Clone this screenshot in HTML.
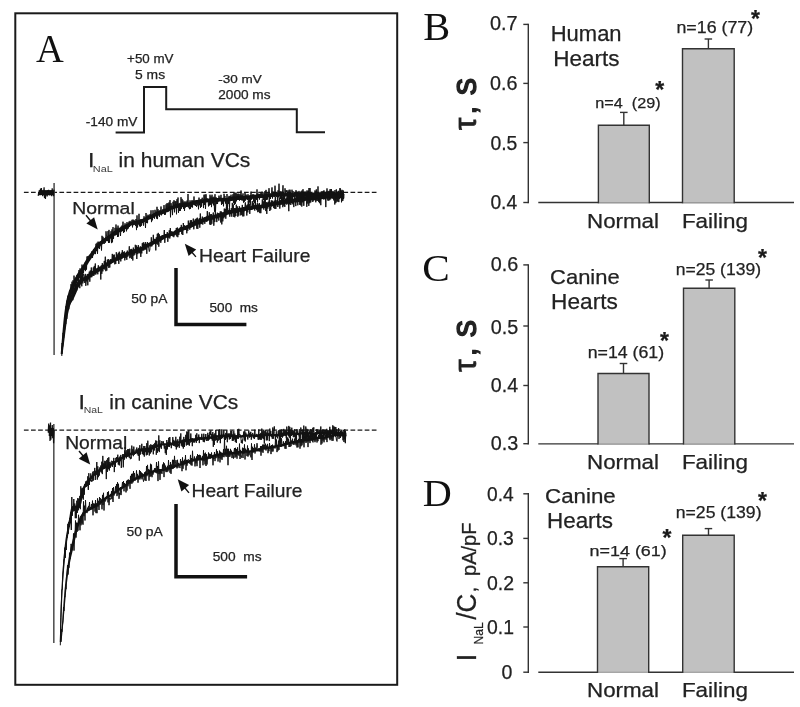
<!DOCTYPE html>
<html><head><meta charset="utf-8"><style>
html,body{margin:0;padding:0;background:#fff;}
svg{display:block;filter:grayscale(1) blur(0.35px);}
text{font-family:"Liberation Sans",sans-serif;fill:#222;stroke:#222;stroke-width:0.25px;}
.serif{font-family:"Liberation Serif",serif;fill:#111;stroke:none;}
.sub{fill:#3a3a3a;stroke:none;}
</style></head><body>
<svg width="800" height="707" viewBox="0 0 800 707">
<rect width="800" height="707" fill="#fff"/>

<rect x="15.3" y="13.3" width="381.9" height="671.5" fill="none" stroke="#1a1a1a" stroke-width="2"/>
<text class="serif" x="36.12" y="62.00" font-size="39.39" textLength="27.76" lengthAdjust="spacingAndGlyphs">A</text>
<polyline fill="none" stroke="#1a1a1a" stroke-width="2" points="115.6,132.6 144,132.6 144,86.9 166.2,86.9 166.2,109.2 296.8,109.2 296.8,132.2 325,132.2"/>
<text x="127.13" y="63.30" font-size="13.14" textLength="46.39" lengthAdjust="spacingAndGlyphs">+50 mV</text>
<text x="135.04" y="78.90" font-size="12.90" textLength="30.07" lengthAdjust="spacingAndGlyphs">5 ms</text>
<text x="85.79" y="125.60" font-size="13.14" textLength="51.64" lengthAdjust="spacingAndGlyphs">-140 mV</text>
<text x="218.29" y="83.30" font-size="11.29" textLength="43.42" lengthAdjust="spacingAndGlyphs">-30 mV</text>
<text x="218.22" y="98.50" font-size="12.57" textLength="52.27" lengthAdjust="spacingAndGlyphs">2000 ms</text>
<text x="87.92" y="167.00" font-size="20.29" textLength="6.43" lengthAdjust="spacingAndGlyphs">I</text>
<text class="sub" x="92.88" y="172.30" font-size="9.13" textLength="19.94" lengthAdjust="spacingAndGlyphs">NaL</text>
<text x="118.64" y="167.00" font-size="19.59" textLength="131.62" lengthAdjust="spacingAndGlyphs">in human VCs</text>
<text x="78.52" y="408.60" font-size="20.43" textLength="6.43" lengthAdjust="spacingAndGlyphs">I</text>
<text class="sub" x="83.67" y="412.50" font-size="8.84" textLength="19.14" lengthAdjust="spacingAndGlyphs">NaL</text>
<text x="109.24" y="408.60" font-size="19.59" textLength="128.99" lengthAdjust="spacingAndGlyphs">in canine VCs</text>
<line x1="23.9" y1="192.3" x2="378" y2="192.3" stroke="#1a1a1a" stroke-width="1.3" stroke-dasharray="4.7,2.4"/>
<line x1="23.9" y1="430.2" x2="378" y2="430.2" stroke="#1a1a1a" stroke-width="1.3" stroke-dasharray="4.7,2.4"/>
<line x1="54.1" y1="183" x2="54.1" y2="355" stroke="#555" stroke-width="1.6"/>
<line x1="53.8" y1="424" x2="53.8" y2="643" stroke="#555" stroke-width="1.6"/>
<polygon fill="#111" points="62.3,354.1 63.4,342.6 64.5,332.0 65.6,322.0 66.7,313.9 67.8,307.5 68.9,302.3 70.0,298.4 71.1,295.5 72.2,292.6 73.3,290.4 74.2,287.9 75.2,285.9 76.2,283.9 77.2,281.9 78.2,280.0 79.2,278.4 80.2,276.4 81.1,274.8 82.1,273.4 83.1,272.0 84.1,270.4 85.1,269.0 86.2,267.2 87.1,265.3 88.1,263.8 89.1,262.1 90.1,260.5 91.1,259.1 92.1,257.6 93.1,256.1 94.1,254.5 95.0,253.2 96.0,251.8 97.0,250.4 98.0,249.1 98.9,247.8 99.9,246.9 100.9,245.6 101.7,244.8 102.7,244.3 103.7,243.1 104.7,242.6 105.7,241.6 106.5,241.2 107.6,240.4 108.5,239.9 109.6,239.2 110.5,238.4 111.6,237.9 112.6,237.0 113.5,236.6 114.7,235.6 115.6,234.8 116.5,234.3 117.6,233.6 118.6,232.8 119.4,232.2 120.3,231.9 121.5,231.2 122.6,230.6 123.7,229.7 124.3,229.2 125.2,229.0 126.4,228.3 127.3,227.9 128.4,227.3 129.4,226.7 130.5,226.1 131.4,225.5 131.7,225.3 132.8,225.5 134.1,224.9 134.8,224.8 136.1,224.5 137.0,224.1 137.7,224.1 139.0,223.9 140.2,223.4 141.1,223.1 142.0,222.9 143.0,222.5 144.2,222.2 145.4,221.6 146.4,221.0 147.3,220.6 148.3,220.1 149.3,219.6 150.2,219.2 151.2,218.9 152.3,218.4 153.4,217.9 154.5,217.2 155.4,216.6 156.2,216.3 157.3,215.9 158.3,215.3 158.9,215.1 160.0,214.9 161.1,214.5 162.1,214.2 163.4,213.8 164.3,213.1 165.0,213.0 166.1,212.6 167.1,212.3 168.4,211.9 169.5,211.0 170.6,210.4 171.4,209.7 172.0,209.5 172.9,209.4 174.1,209.0 175.4,208.5 176.2,208.0 177.1,207.8 178.0,207.3 178.8,207.3 179.6,207.1 180.3,207.2 181.7,207.3 183.1,206.9 183.6,206.7 184.5,206.9 185.8,206.6 186.6,206.6 187.7,206.5 188.9,206.3 190.0,206.0 191.0,205.7 192.2,205.4 193.2,204.8 194.1,204.6 195.0,204.2 195.9,204.1 196.8,203.9 197.8,203.8 198.8,203.6 199.7,203.5 200.7,203.3 201.7,203.3 202.7,203.1 203.6,203.1 204.9,202.9 205.9,202.6 206.9,202.5 207.7,202.2 208.4,202.3 209.8,202.3 211.0,201.8 211.6,201.8 212.5,201.8 213.5,201.7 214.3,201.9 215.4,201.9 216.5,201.9 217.7,201.9 218.8,201.7 219.8,201.5 220.4,201.4 221.1,201.6 222.4,201.8 223.9,201.7 224.6,201.4 225.2,201.6 226.6,201.7 227.8,201.5 229.3,201.2 229.9,200.5 230.1,200.9 231.6,201.0 233.1,200.7 233.9,200.3 234.3,200.4 235.8,200.5 237.0,200.0 237.6,199.9 238.5,200.0 239.5,199.9 240.5,200.0 241.8,200.0 242.5,199.8 243.5,199.9 244.9,199.7 245.9,199.4 246.5,199.4 247.7,199.4 248.8,199.1 249.7,199.1 250.6,198.9 251.8,199.0 252.9,198.6 253.9,198.5 254.5,198.3 255.5,198.5 256.9,198.3 257.8,198.0 258.7,198.0 259.6,197.9 260.4,197.9 261.2,198.0 262.3,198.2 263.6,198.2 264.8,198.1 265.9,197.9 266.9,197.7 267.9,197.5 268.8,197.2 269.7,197.3 270.6,197.1 271.6,197.1 272.9,196.9 273.8,196.7 274.6,196.7 275.7,196.5 276.4,196.5 277.5,196.6 278.4,196.5 279.1,196.6 280.6,196.9 281.9,196.5 282.3,196.4 283.0,196.8 284.7,196.9 285.8,196.6 286.1,196.6 287.0,197.0 288.6,197.1 289.8,196.9 290.4,196.8 291.4,197.0 292.5,196.9 293.6,197.0 294.8,196.9 295.5,196.7 296.4,196.8 297.9,196.7 298.6,196.4 299.6,196.6 300.8,196.4 301.6,196.3 302.6,196.3 303.8,196.2 304.4,196.0 305.4,196.3 306.8,196.1 307.5,196.0 308.3,196.1 309.3,196.2 310.2,196.4 311.5,196.5 312.6,196.4 313.6,196.4 314.5,196.4 315.6,196.4 316.5,196.2 317.0,196.4 318.5,196.8 319.9,196.4 320.6,196.3 321.5,196.4 322.8,196.3 323.8,196.1 324.6,196.0 325.4,196.0 326.4,196.1 327.9,196.1 328.7,195.7 329.1,195.9 330.3,196.1 331.5,196.2 332.4,196.1 333.3,196.3 334.4,196.4 335.6,196.4 336.7,196.3 337.5,196.2 338.7,196.2 339.9,196.0 340.7,195.8 341.6,195.8 342.7,195.7 343.8,195.5 343.2,191.8 342.3,191.9 341.4,192.0 340.3,192.0 339.1,192.3 338.3,192.4 337.5,192.4 336.3,192.5 335.4,192.6 334.6,192.6 333.7,192.5 332.6,192.4 331.5,192.4 330.7,192.3 329.9,192.2 328.3,191.9 327.1,192.3 326.6,192.3 325.6,192.2 324.4,192.2 323.2,192.3 322.2,192.5 321.5,192.6 320.4,192.5 319.1,192.7 318.5,193.0 318.0,192.7 316.5,192.4 315.4,192.6 314.5,192.6 313.4,192.6 312.4,192.7 311.5,192.7 310.8,192.6 309.7,192.4 308.7,192.4 307.5,192.2 306.2,192.4 305.6,192.5 304.6,192.2 303.2,192.4 302.4,192.5 301.4,192.5 300.2,192.6 299.4,192.8 298.4,192.7 297.1,193.0 296.6,193.0 295.5,192.9 294.2,193.1 293.4,193.2 292.5,193.1 291.6,193.2 290.6,193.0 289.2,193.2 288.4,193.3 288.0,193.3 286.9,192.9 285.2,192.9 284.3,193.2 284.0,193.1 282.7,192.7 281.1,192.8 280.4,193.1 279.9,192.9 278.6,192.7 277.5,192.8 276.6,192.7 275.3,192.8 274.4,192.9 273.2,192.9 272.1,193.2 271.4,193.3 270.4,193.3 269.3,193.5 268.2,193.4 267.1,193.8 266.1,193.9 265.1,194.2 264.2,194.3 263.4,194.4 262.7,194.5 261.8,194.2 260.6,194.1 259.4,194.1 258.3,194.2 257.2,194.3 256.1,194.5 255.5,194.7 254.5,194.5 253.1,194.7 252.1,194.9 251.2,195.2 250.4,195.1 249.3,195.3 248.2,195.4 247.3,195.6 246.5,195.6 245.1,195.7 244.1,196.0 243.5,196.1 242.5,196.0 241.2,196.2 240.5,196.2 239.5,196.1 238.5,196.2 237.4,196.1 236.0,196.4 235.2,196.7 234.7,196.6 233.1,196.6 231.9,197.1 231.4,197.2 230.9,197.2 229.1,196.8 227.7,197.7 227.2,197.7 226.4,197.9 225.8,197.9 224.4,197.6 223.1,198.0 222.6,198.0 221.9,197.9 220.6,197.6 219.2,197.8 218.2,197.9 217.3,198.1 216.5,198.1 215.6,198.1 214.7,198.1 213.5,197.9 212.5,198.0 211.4,198.0 210.0,198.2 209.2,198.6 208.6,198.5 207.3,198.4 206.1,198.8 205.1,198.9 204.1,199.2 203.4,199.3 202.3,199.3 201.3,199.5 200.3,199.6 199.3,199.7 198.2,199.8 197.2,200.0 196.2,200.1 195.1,200.4 194.0,200.6 192.9,201.0 191.8,201.3 190.8,201.9 190.0,202.1 189.0,202.4 188.1,202.6 187.3,202.7 186.4,202.8 185.2,202.9 184.5,203.1 183.4,202.9 181.9,203.3 181.3,203.5 180.7,203.4 179.4,203.3 178.2,203.5 177.0,203.7 175.9,204.2 174.8,204.5 173.6,205.1 172.9,205.5 172.1,205.7 171.0,205.9 169.6,206.4 168.4,207.3 167.5,207.9 166.6,208.5 165.9,208.7 164.9,209.0 164.0,209.4 162.7,209.6 161.6,210.4 160.9,210.6 159.9,211.0 159.0,211.2 158.1,211.4 156.7,211.8 155.7,212.5 154.8,212.8 153.6,213.2 152.5,214.0 151.6,214.6 150.7,214.9 149.8,215.4 148.8,215.6 147.7,216.2 146.7,216.7 145.7,217.2 144.6,217.6 143.6,218.3 142.8,218.7 142.0,218.9 141.0,219.2 139.9,219.4 138.8,219.9 138.0,220.2 137.3,220.3 136.0,220.4 134.9,220.9 134.2,221.0 132.9,221.3 132.2,221.7 131.3,221.6 129.6,222.1 128.5,222.9 127.6,223.4 126.6,224.0 125.7,224.5 124.6,224.9 123.8,225.6 122.7,225.7 121.3,226.7 120.4,227.4 119.5,227.9 118.7,228.5 117.6,228.9 116.4,229.7 115.4,230.5 114.5,231.1 113.4,231.7 112.3,232.7 111.5,233.4 110.4,233.9 109.4,234.8 108.5,235.2 107.4,236.1 106.5,236.6 105.4,237.2 104.5,238.0 103.3,238.6 102.3,239.6 101.3,240.2 100.3,241.3 99.3,241.8 98.1,243.1 97.1,244.3 96.1,245.3 95.0,246.8 94.0,248.2 93.0,249.6 92.0,250.9 90.9,252.4 89.9,254.1 88.9,255.5 87.9,256.9 86.9,258.5 85.9,260.1 84.9,261.8 83.9,263.4 82.8,265.3 81.9,266.9 80.9,268.3 79.9,269.9 78.9,271.3 77.9,272.8 76.8,274.6 75.8,276.6 74.8,278.1 73.8,280.2 72.8,282.2 71.8,284.2 70.8,286.4 69.7,288.9 68.8,291.3 67.9,294.4 67.0,297.6 66.1,301.7 65.2,307.0 64.3,313.5 63.4,321.8 62.5,331.8 61.6,342.4 60.7,353.9"/><polyline fill="none" stroke="#111" stroke-width="1.00" stroke-linejoin="miter" points="61.5,354.4 62.0,343.1 62.5,345.1 63.0,332.9 63.5,334.7 64.0,326.2 64.5,324.2 65.0,317.2 65.5,314.6 66.0,306.2 66.5,309.0 67.0,300.5 67.5,305.2 68.0,295.7 68.5,302.5 69.0,295.0 69.5,293.7 70.0,290.0 70.5,297.5 71.0,284.2 71.5,294.5 72.0,281.7 72.5,293.4 73.0,280.3 73.5,288.2 74.0,275.6 74.5,281.4 75.0,279.4 75.5,290.4 76.0,279.3 76.5,283.1 77.0,275.0 77.5,279.2 78.0,274.5 78.5,283.0 79.0,270.0 79.5,277.6 80.0,268.4 80.5,271.7 81.0,271.6 81.5,279.3 82.0,264.6 82.5,277.9 83.0,265.9 83.5,272.9 84.0,267.2 84.5,269.5 85.0,262.7 85.5,271.1 86.0,261.9 86.5,269.6 87.0,256.5 87.5,262.0 88.0,256.0 88.5,260.2 89.0,255.7 89.5,258.4 90.0,254.7 90.5,256.5 91.0,256.0 91.5,255.4 92.0,251.3 92.5,258.0 93.0,252.0 93.5,253.6 94.0,249.1 94.5,253.3 95.0,248.5 95.5,254.1 96.0,243.8 96.5,250.8 97.0,242.8 97.5,253.8 98.0,241.7 98.5,247.4 99.0,241.8 99.5,249.0 100.0,242.3 100.5,244.7 101.0,241.1 101.5,250.5 102.0,235.8 102.5,242.1 103.0,236.8 103.5,243.5 104.0,243.0 104.5,243.7 105.0,239.3 105.5,242.6 106.0,231.3 106.5,236.6 107.0,237.6 107.5,241.1 108.0,231.1 108.5,243.0 109.0,229.9 109.5,242.7 110.0,235.8 110.5,238.2 111.0,231.2 111.5,243.1 112.0,229.4 112.5,242.3 113.0,227.1 113.5,238.9 114.0,231.6 114.5,235.2 115.0,227.8 115.5,235.3 116.0,224.5 116.5,234.7 117.0,227.8 117.5,237.0 118.0,225.6 118.5,236.6 119.0,227.7 119.5,230.7 120.0,229.6 120.5,236.0 121.0,226.7 121.5,231.5 122.0,225.5 122.5,231.1 123.0,221.7 123.5,232.8 124.0,227.9 124.5,232.1 125.0,223.3 125.5,229.0 126.0,225.0 126.5,231.3 127.0,222.1 127.5,229.3 128.0,228.1 128.5,228.2 129.0,221.6 129.5,227.0 130.0,220.9 130.5,224.1 131.0,222.9 131.5,224.3 132.0,219.8 132.5,227.4 133.0,219.6 133.5,224.9 134.0,219.9 134.5,224.3 135.0,221.7 135.5,225.8 136.0,219.0 136.5,230.1 137.0,215.4 137.5,227.5 138.0,222.4 138.5,224.5 139.0,213.8 139.5,226.3 140.0,220.6 140.5,226.6 141.0,219.2 141.5,225.7 142.0,220.0 142.5,223.0 143.0,221.5 143.5,225.6 144.0,216.3 144.5,221.6 145.0,220.2 145.5,227.9 146.0,213.0 146.5,223.0 147.0,215.6 147.5,223.2 148.0,214.7 148.5,217.0 149.0,215.8 149.5,219.0 150.0,214.1 150.5,218.6 151.0,210.3 151.5,222.1 152.0,214.9 152.5,220.3 153.0,210.2 153.5,217.1 154.0,215.1 154.5,218.7 155.0,209.8 155.5,216.1 156.0,211.6 156.5,218.5 157.0,206.8 157.5,219.1 158.0,209.2 158.5,215.4 159.0,210.9 159.5,216.8 160.0,210.0 160.5,213.8 161.0,206.5 161.5,215.3 162.0,212.4 162.5,213.1 163.0,209.1 163.5,213.4 164.0,205.1 164.5,214.9 165.0,208.7 165.5,214.6 166.0,204.4 166.5,210.3 167.0,203.2 167.5,210.9 168.0,203.3 168.5,209.9 169.0,202.4 169.5,210.0 170.0,200.1 170.5,217.3 171.0,203.1 171.5,207.3 172.0,207.7 172.5,215.1 173.0,201.8 173.5,207.3 174.0,200.2 174.5,212.3 175.0,201.2 175.5,206.6 176.0,201.2 176.5,214.3 177.0,199.2 177.5,207.8 178.0,197.5 178.5,212.8 179.0,204.9 179.5,211.0 180.0,202.9 180.5,210.8 181.0,197.2 181.5,208.7 182.0,198.9 182.5,204.8 183.0,200.4 183.5,208.9 184.0,201.9 184.5,211.0 185.0,201.3 185.5,207.5 186.0,202.1 186.5,207.0 187.0,200.6 187.5,206.5 188.0,194.0 188.5,207.4 189.0,206.9 189.5,209.2 190.0,200.3 190.5,208.8 191.0,201.6 191.5,207.1 192.0,200.1 192.5,207.5 193.0,200.7 193.5,204.4 194.0,196.5 194.5,205.2 195.0,202.1 195.5,205.9 196.0,200.3 196.5,206.8 197.0,204.8 197.5,205.3 198.0,200.1 198.5,209.3 199.0,197.6 199.5,205.2 200.0,201.0 200.5,207.8 201.0,199.2 201.5,206.7 202.0,197.7 202.5,198.0 203.0,199.6 203.5,208.1 204.0,194.7 204.5,204.8 205.0,194.6 205.5,209.0 206.0,194.2 206.5,201.3 207.0,198.3 207.5,201.0 208.0,199.2 208.5,206.4 209.0,200.1 209.5,205.4 210.0,194.7 210.5,204.7 211.0,196.4 211.5,207.1 212.0,194.7 212.5,203.4 213.0,197.2 213.5,205.3 214.0,196.7 214.5,211.7 215.0,194.2 215.5,211.7 216.0,197.2 216.5,204.1 217.0,198.5 217.5,204.0 218.0,199.7 218.5,200.3 219.0,195.6 219.5,199.8 220.0,198.1 220.5,200.3 221.0,194.8 221.5,204.9 222.0,200.4 222.5,203.8 223.0,197.8 223.5,206.3 224.0,193.8 224.5,197.5 225.0,196.1 225.5,203.5 226.0,199.5 226.5,208.1 227.0,194.0 227.5,208.3 228.0,199.1 228.5,203.8 229.0,195.9 229.5,207.8 230.0,196.0 230.5,201.1 231.0,194.7 231.5,199.6 232.0,196.8 232.5,197.7 233.0,194.2 233.5,203.2 234.0,192.3 234.5,204.9 235.0,193.1 235.5,203.7 236.0,192.5 236.5,201.3 237.0,193.9 237.5,198.9 238.0,193.6 238.5,198.5 239.0,193.8 239.5,200.6 240.0,194.5 240.5,199.3 241.0,190.5 241.5,200.3 242.0,195.1 242.5,200.4 243.0,193.4 243.5,202.6 244.0,197.2 244.5,201.7 245.0,192.8 245.5,200.5 246.0,194.5 246.5,197.2 247.0,196.3 247.5,199.8 248.0,194.2 248.5,205.3 249.0,196.8 249.5,202.4 250.0,197.6 250.5,201.4 251.0,191.6 251.5,199.7 252.0,196.9 252.5,198.2 253.0,194.0 253.5,201.6 254.0,197.3 254.5,203.1 255.0,196.0 255.5,199.7 256.0,195.3 256.5,199.8 257.0,189.4 257.5,202.4 258.0,193.5 258.5,196.9 259.0,195.3 259.5,199.5 260.0,193.8 260.5,195.6 261.0,192.6 261.5,196.9 262.0,191.7 262.5,195.0 263.0,198.5 263.5,200.1 264.0,192.3 264.5,200.7 265.0,191.0 265.5,200.9 266.0,189.9 266.5,200.0 267.0,192.4 267.5,199.5 268.0,193.7 268.5,196.2 269.0,188.2 269.5,196.1 270.0,194.2 270.5,198.9 271.0,193.6 271.5,193.3 272.0,187.4 272.5,198.5 273.0,191.5 273.5,196.2 274.0,192.7 274.5,196.9 275.0,185.7 275.5,195.9 276.0,192.5 276.5,196.8 277.0,192.4 277.5,201.5 278.0,190.4 278.5,197.3 279.0,183.7 279.5,196.2 280.0,191.4 280.5,198.9 281.0,191.4 281.5,198.0 282.0,192.0 282.5,193.4 283.0,185.3 283.5,202.5 284.0,193.9 284.5,199.4 285.0,188.3 285.5,194.8 286.0,190.4 286.5,191.9 287.0,190.1 287.5,199.7 288.0,191.4 288.5,202.0 289.0,189.8 289.5,204.0 290.0,189.7 290.5,197.2 291.0,193.1 291.5,202.5 292.0,189.7 292.5,202.2 293.0,191.1 293.5,196.7 294.0,194.0 294.5,201.5 295.0,193.0 295.5,196.0 296.0,190.2 296.5,195.2 297.0,191.6 297.5,199.1 298.0,192.0 298.5,196.0 299.0,190.9 299.5,197.4 300.0,192.1 300.5,199.3 301.0,191.4 301.5,198.1 302.0,190.5 302.5,197.8 303.0,189.2 303.5,198.8 304.0,191.7 304.5,192.7 305.0,191.7 305.5,196.0 306.0,191.6 306.5,199.4 307.0,190.4 307.5,198.9 308.0,191.4 308.5,196.5 309.0,188.0 309.5,201.9 310.0,188.0 310.5,197.0 311.0,193.5 311.5,197.7 312.0,193.5 312.5,199.9 313.0,193.2 313.5,197.9 314.0,197.6 314.5,196.5 315.0,190.4 315.5,196.6 316.0,191.2 316.5,197.3 317.0,195.3 317.5,196.8 318.0,186.4 318.5,200.2 319.0,193.0 319.5,203.2 320.0,193.9 320.5,199.4 321.0,191.7 321.5,197.8 322.0,191.1 322.5,196.6 323.0,192.2 323.5,198.1 324.0,190.4 324.5,195.9 325.0,194.8 325.5,197.7 326.0,193.9 326.5,195.0 327.0,188.4 327.5,198.3 328.0,190.9 328.5,197.5 329.0,191.0 329.5,198.9 330.0,189.3 330.5,196.5 331.0,189.1 331.5,196.4 332.0,191.8 332.5,196.4 333.0,190.9 333.5,198.6 334.0,192.0 334.5,194.8 335.0,190.0 335.5,197.8 336.0,193.3 336.5,198.6 337.0,191.7 337.5,196.4 338.0,195.0 338.5,197.1 339.0,191.8 339.5,198.9 340.0,188.0 340.5,198.1 341.0,190.6 341.5,202.3 342.0,189.8 342.5,191.4 343.0,191.1 343.5,199.1 344.0,193.9"/>
<polygon fill="#111" points="62.6,354.1 63.7,345.4 64.8,336.8 65.9,328.1 67.0,319.7 68.1,313.7 69.2,308.8 70.3,305.1 71.3,302.6 72.4,301.0 73.5,299.1 74.5,297.0 75.5,294.7 76.6,292.2 77.6,289.6 78.5,287.5 79.5,285.6 80.3,284.3 81.2,283.4 82.1,282.4 82.9,281.8 83.7,281.2 84.6,280.8 85.6,280.4 86.7,279.9 87.8,279.2 88.9,278.6 90.0,277.6 90.8,277.0 91.8,276.5 92.9,275.6 93.7,275.0 94.8,274.5 96.1,273.5 97.1,272.5 97.9,271.8 98.6,271.5 99.7,271.0 100.8,270.4 101.6,269.9 102.6,269.6 103.8,268.9 104.9,268.3 105.9,267.5 106.9,266.8 108.0,266.0 109.0,265.2 109.9,264.4 110.7,263.9 111.7,263.5 112.7,262.9 113.8,262.4 114.7,261.7 115.5,261.5 116.6,260.9 117.4,260.6 118.5,260.3 119.4,259.8 120.5,259.6 121.8,258.9 122.7,258.3 123.7,257.8 124.6,257.4 125.6,257.0 126.5,256.5 127.5,256.2 128.5,255.6 129.6,255.3 130.8,254.6 131.6,254.1 132.0,254.0 133.2,254.0 134.4,253.5 135.5,253.2 136.6,252.7 137.7,252.2 138.6,251.6 139.3,251.4 140.3,251.2 141.4,250.8 142.4,250.5 143.7,250.0 144.7,249.4 145.9,248.7 146.9,247.8 147.6,247.6 148.6,246.9 149.6,246.6 150.5,246.1 151.5,245.9 152.7,245.2 153.8,244.6 154.8,243.9 155.4,243.6 156.6,243.3 157.7,242.5 158.6,242.3 159.8,241.5 160.7,241.0 161.8,240.4 162.8,239.6 163.7,239.1 164.6,238.6 165.6,238.3 166.6,237.8 167.1,237.6 168.3,237.5 169.7,236.8 170.5,236.4 171.3,236.1 172.4,235.9 173.4,235.4 174.5,235.2 175.6,234.5 176.7,234.2 177.9,233.3 178.8,232.7 179.6,232.2 180.4,232.0 181.6,231.5 182.7,230.9 183.6,230.4 184.4,230.1 185.4,229.9 186.6,229.4 187.5,228.9 188.2,228.7 189.3,228.6 190.6,228.0 191.6,227.5 192.6,227.1 193.9,226.5 194.9,225.5 195.8,225.1 196.7,224.4 197.2,224.3 198.5,224.0 199.6,223.4 200.5,223.0 201.5,222.7 202.4,222.3 203.3,222.1 204.4,221.8 205.2,221.5 206.1,221.5 207.7,221.1 208.6,220.3 209.2,220.2 210.2,220.0 211.2,219.8 212.2,219.7 213.3,219.4 214.7,218.9 215.6,218.3 216.3,218.2 217.2,217.9 218.2,217.8 219.6,217.4 220.4,216.9 221.2,216.8 222.5,216.4 223.3,216.0 224.0,216.0 225.4,215.8 226.6,215.3 227.6,214.8 228.3,214.5 229.3,214.4 230.3,214.0 231.3,213.8 232.3,213.5 233.4,213.3 234.3,212.8 234.8,212.8 236.1,212.8 237.0,212.5 238.4,212.6 239.7,211.6 240.2,211.5 240.9,211.5 242.0,211.4 242.9,211.3 243.9,211.4 245.3,211.1 246.6,210.6 247.4,210.3 248.0,210.1 248.6,210.1 249.9,210.3 251.3,210.0 252.4,209.7 253.3,209.3 254.3,209.2 255.1,208.8 255.9,208.9 256.7,208.8 257.5,209.0 259.1,209.1 260.3,208.6 261.2,208.5 262.0,208.3 263.1,208.3 264.2,207.9 265.1,207.9 266.3,207.5 267.2,207.3 268.5,207.0 269.7,206.3 270.2,206.0 270.8,206.1 271.9,206.1 273.1,205.9 273.9,205.8 275.2,205.8 276.2,205.3 277.1,205.4 278.2,205.1 279.2,204.9 280.4,204.5 281.5,204.2 282.3,203.8 283.0,203.8 284.4,203.6 285.2,203.1 285.9,203.2 287.0,203.0 288.2,203.0 289.3,202.5 289.8,202.5 290.5,202.6 291.8,202.8 293.2,202.7 294.2,202.4 294.8,202.3 296.0,202.4 297.3,202.0 297.9,201.9 298.9,202.0 300.2,201.7 301.0,201.6 301.9,201.5 303.1,201.4 304.1,201.2 305.3,201.0 306.3,200.6 306.9,200.5 307.9,200.6 309.1,200.4 309.7,200.2 310.8,200.5 312.2,200.2 312.9,200.0 313.7,200.1 315.1,200.0 316.2,199.7 317.0,199.6 317.7,199.6 318.8,199.7 320.1,199.6 321.2,199.3 322.0,199.2 323.0,199.1 324.2,198.9 325.4,198.6 326.0,198.3 327.2,198.5 328.5,197.7 328.6,197.8 329.4,198.0 330.7,198.2 331.8,198.2 332.9,198.2 333.8,198.0 334.8,198.2 335.9,198.0 336.5,198.0 337.6,198.3 339.2,198.2 340.5,197.8 341.4,197.4 342.1,197.3 343.0,197.1 343.8,197.1 343.8,193.3 342.6,193.3 341.5,193.6 340.2,193.7 339.1,194.3 338.4,194.5 338.0,194.5 337.1,194.3 335.7,194.2 334.8,194.4 333.8,194.2 332.7,194.4 331.8,194.4 330.9,194.4 330.2,194.3 329.0,194.0 327.1,194.2 326.4,194.8 325.6,194.5 324.2,195.0 323.4,195.2 322.6,195.3 321.6,195.4 320.4,195.6 319.5,195.8 318.8,195.9 317.9,195.8 316.6,195.8 315.4,196.0 314.5,196.3 313.9,196.3 312.7,196.2 311.4,196.5 310.8,196.7 309.9,196.4 308.5,196.6 307.7,196.8 306.7,196.7 305.3,197.0 304.3,197.4 303.5,197.5 302.5,197.7 301.7,197.7 300.6,197.8 299.4,198.0 298.7,198.2 297.7,198.1 296.3,198.3 295.6,198.7 294.8,198.5 293.4,198.7 292.4,198.9 291.8,199.0 291.1,198.9 289.8,198.7 288.3,198.9 287.4,199.2 286.6,199.2 285.7,199.4 284.4,199.4 283.2,200.0 282.6,200.0 281.3,200.2 280.1,200.6 279.2,200.9 278.4,201.2 277.4,201.3 276.5,201.6 275.4,201.6 274.4,202.1 273.7,202.0 272.5,202.2 271.7,202.3 270.8,202.3 269.4,202.3 267.9,203.0 267.1,203.5 266.4,203.6 265.3,203.8 264.5,204.2 263.4,204.2 262.5,204.6 261.6,204.5 260.4,204.8 259.3,205.0 258.5,205.3 258.1,205.2 256.9,205.0 255.7,205.1 254.5,205.1 253.3,205.5 252.3,205.6 251.2,206.1 250.3,206.3 249.7,206.5 249.0,206.4 247.6,206.3 246.2,206.7 245.0,207.1 244.3,207.5 243.7,207.6 242.7,207.5 241.6,207.6 240.7,207.7 239.4,207.7 237.9,208.3 237.2,208.9 236.6,208.7 235.5,209.1 234.8,209.0 233.3,209.1 232.2,209.7 231.3,209.8 230.3,210.2 229.3,210.3 228.3,210.7 227.3,210.8 226.0,211.4 225.0,211.8 224.2,212.1 223.6,212.2 222.3,212.3 221.1,212.9 220.4,213.1 219.2,213.3 218.0,213.9 217.4,214.1 216.4,214.2 215.3,214.5 214.0,214.8 212.9,215.6 212.3,215.8 211.4,215.9 210.4,216.1 209.4,216.3 208.4,216.5 207.0,216.9 205.9,217.7 205.5,217.7 204.4,217.8 203.2,218.2 202.3,218.4 201.2,218.7 200.1,219.1 199.1,219.5 198.0,220.0 197.1,220.5 196.4,220.6 194.9,221.0 193.8,221.9 192.7,222.4 191.7,223.3 191.0,223.6 190.0,224.1 189.0,224.5 188.3,224.9 187.4,225.0 186.1,225.4 185.0,225.9 184.2,226.3 183.2,226.4 182.0,227.0 180.9,227.6 180.0,228.1 179.2,228.4 178.0,228.8 176.8,229.5 175.7,230.2 174.9,230.8 174.0,231.1 173.1,231.7 172.2,231.8 171.2,232.3 170.3,232.4 169.1,232.9 167.9,233.5 167.3,233.9 166.5,233.8 165.0,234.3 164.0,234.8 163.0,235.2 161.9,235.8 160.8,236.5 159.8,237.2 158.9,237.6 157.8,238.3 157.0,238.9 155.9,239.1 155.0,239.9 154.2,240.0 152.8,240.7 151.8,241.4 150.9,241.8 150.1,242.3 149.1,242.6 148.0,243.2 147.0,243.5 146.0,244.2 144.7,244.6 143.7,245.7 142.9,246.0 141.9,246.6 141.2,246.9 140.2,247.1 139.3,247.5 138.3,247.7 137.0,248.2 135.9,248.8 135.0,249.2 134.1,249.6 133.2,249.9 132.4,250.2 131.6,250.3 130.0,250.6 128.8,251.4 128.0,251.9 127.1,252.2 126.1,252.7 125.1,253.0 124.0,253.5 123.0,253.9 121.9,254.4 120.9,255.0 119.8,255.6 119.1,256.1 118.2,256.2 117.1,256.8 116.2,257.0 115.0,257.5 114.1,258.0 112.9,258.3 111.8,259.1 110.9,259.6 109.9,260.1 108.9,260.6 107.7,261.3 106.6,262.2 105.6,263.0 104.7,263.7 103.7,264.4 102.7,265.1 101.8,265.6 101.0,266.1 100.0,266.4 98.8,267.1 97.9,267.6 97.0,268.0 95.7,268.7 94.5,269.7 93.5,270.7 92.8,271.3 91.9,271.7 90.7,272.5 89.8,273.3 88.8,273.7 87.6,274.7 86.7,275.5 85.8,276.0 84.9,276.6 84.0,277.0 83.0,277.4 81.9,277.9 80.7,278.7 79.5,279.6 78.4,280.8 77.3,282.0 76.1,283.8 75.1,285.9 74.0,288.1 73.0,290.8 72.1,293.2 71.1,295.4 70.1,297.4 69.2,299.3 68.3,301.3 67.3,304.2 66.4,308.1 65.5,313.2 64.6,319.3 63.7,327.8 62.8,336.6 61.9,345.2 61.0,353.9"/><polyline fill="none" stroke="#111" stroke-width="1.00" stroke-linejoin="miter" points="61.8,356.0 62.3,347.6 62.8,346.2 63.3,338.8 63.8,337.5 64.3,331.1 64.8,329.0 65.3,318.9 65.8,324.1 66.3,312.6 66.8,318.9 67.3,308.4 67.8,310.0 68.3,303.6 68.8,309.3 69.3,299.6 69.8,304.3 70.3,296.7 70.8,302.4 71.3,294.8 71.8,299.3 72.3,290.7 72.8,300.2 73.3,289.3 73.8,294.8 74.3,287.8 74.8,293.8 75.3,285.9 75.8,288.0 76.3,283.8 76.8,290.5 77.3,286.0 77.8,286.3 78.3,279.7 78.8,282.9 79.3,281.4 79.8,288.2 80.3,274.2 80.8,284.5 81.3,279.2 81.8,286.3 82.3,276.2 82.8,283.4 83.3,273.6 83.8,274.9 84.3,276.4 84.8,283.0 85.3,273.9 85.8,285.8 86.3,279.8 86.8,281.4 87.3,274.1 87.8,285.3 88.3,273.8 88.8,279.6 89.3,271.6 89.8,281.7 90.3,270.5 90.8,277.3 91.3,267.5 91.8,277.2 92.3,271.0 92.8,272.8 93.3,267.4 93.8,276.0 94.3,265.9 94.8,273.0 95.3,263.5 95.8,274.6 96.3,270.8 96.8,272.1 97.3,268.8 97.8,274.3 98.3,265.3 98.8,271.8 99.3,266.9 99.8,270.0 100.3,269.8 100.8,279.5 101.3,265.4 101.8,273.8 102.3,263.2 102.8,271.4 103.3,266.7 103.8,267.2 104.3,260.9 104.8,269.5 105.3,256.7 105.8,271.2 106.3,264.3 106.8,270.6 107.3,259.7 107.8,265.0 108.3,259.1 108.8,267.9 109.3,261.9 109.8,267.5 110.3,259.2 110.8,264.1 111.3,261.6 111.8,260.8 112.3,253.9 112.8,262.0 113.3,254.8 113.8,260.1 114.3,254.6 114.8,264.3 115.3,260.7 115.8,263.9 116.3,252.2 116.8,259.9 117.3,254.4 117.8,260.6 118.3,252.8 118.8,263.9 119.3,251.7 119.8,259.4 120.3,254.1 120.8,261.4 121.3,252.7 121.8,258.8 122.3,250.2 122.8,256.9 123.3,252.1 123.8,257.4 124.3,251.4 124.8,260.4 125.3,255.2 125.8,258.0 126.3,251.9 126.8,259.8 127.3,250.6 127.8,256.7 128.3,252.7 128.8,253.7 129.3,246.3 129.8,258.2 130.3,249.4 130.8,257.6 131.3,248.9 131.8,259.0 132.3,249.6 132.8,260.5 133.3,247.6 133.8,255.7 134.3,249.4 134.8,254.7 135.3,244.8 135.8,252.2 136.3,245.4 136.8,259.0 137.3,246.9 137.8,254.1 138.3,245.1 138.8,252.9 139.3,249.3 139.8,253.3 140.3,246.4 140.8,256.9 141.3,248.9 141.8,253.4 142.3,243.2 142.8,250.5 143.3,242.3 143.8,250.4 144.3,243.7 144.8,249.3 145.3,242.0 145.8,249.6 146.3,243.8 146.8,253.8 147.3,242.0 147.8,243.8 148.3,244.8 148.8,248.8 149.3,251.6 149.8,250.0 150.3,242.9 150.8,246.4 151.3,237.3 151.8,246.4 152.3,241.4 152.8,243.5 153.3,234.8 153.8,243.8 154.3,238.9 154.8,243.1 155.3,238.9 155.8,250.4 156.3,237.3 156.8,243.9 157.3,233.8 157.8,244.7 158.3,232.9 158.8,246.7 159.3,234.3 159.8,239.7 160.3,236.3 160.8,242.8 161.3,235.8 161.8,238.3 162.3,235.0 162.8,239.7 163.3,236.6 163.8,236.8 164.3,230.0 164.8,242.8 165.3,234.3 165.8,235.2 166.3,234.1 166.8,237.1 167.3,232.0 167.8,241.8 168.3,234.4 168.8,237.6 169.3,230.3 169.8,238.5 170.3,228.1 170.8,235.4 171.3,231.3 171.8,232.5 172.3,231.7 172.8,236.4 173.3,232.4 173.8,237.2 174.3,232.4 174.8,235.3 175.3,230.2 175.8,234.5 176.3,228.0 176.8,236.5 177.3,227.5 177.8,237.2 178.3,230.0 178.8,234.9 179.3,228.4 179.8,230.5 180.3,227.1 180.8,230.6 181.3,224.9 181.8,234.2 182.3,227.8 182.8,235.0 183.3,223.0 183.8,227.6 184.3,225.2 184.8,229.9 185.3,229.5 185.8,230.0 186.3,225.7 186.8,233.3 187.3,226.0 187.8,230.8 188.3,220.6 188.8,228.0 189.3,222.8 189.8,229.7 190.3,220.3 190.8,227.6 191.3,220.1 191.8,226.2 192.3,221.9 192.8,224.0 193.3,218.6 193.8,229.3 194.3,220.6 194.8,225.2 195.3,219.2 195.8,225.6 196.3,218.5 196.8,228.7 197.3,217.7 197.8,228.9 198.3,219.6 198.8,224.5 199.3,218.2 199.8,227.7 200.3,213.5 200.8,224.2 201.3,220.2 201.8,224.0 202.3,216.6 202.8,224.6 203.3,217.8 203.8,222.2 204.3,217.2 204.8,223.8 205.3,217.1 205.8,221.4 206.3,216.3 206.8,221.8 207.3,211.1 207.8,220.8 208.3,215.7 208.8,218.9 209.3,212.3 209.8,224.5 210.3,214.3 210.8,225.0 211.3,214.0 211.8,223.8 212.3,215.6 212.8,216.0 213.3,212.5 213.8,225.7 214.3,218.0 214.8,221.9 215.3,211.6 215.8,217.3 216.3,215.3 216.8,222.1 217.3,212.7 217.8,218.5 218.3,213.1 218.8,220.6 219.3,214.2 219.8,215.2 220.3,211.4 220.8,222.5 221.3,211.5 221.8,224.4 222.3,212.9 222.8,221.4 223.3,212.5 223.8,218.3 224.3,208.6 224.8,217.1 225.3,208.9 225.8,218.7 226.3,207.4 226.8,213.5 227.3,207.1 227.8,211.9 228.3,210.2 228.8,213.6 229.3,208.1 229.8,216.7 230.3,210.2 230.8,214.2 231.3,208.1 231.8,216.7 232.3,202.9 232.8,211.6 233.3,204.5 233.8,216.9 234.3,208.1 234.8,217.3 235.3,208.1 235.8,216.0 236.3,204.7 236.8,212.9 237.3,206.4 237.8,216.7 238.3,208.8 238.8,215.6 239.3,206.2 239.8,211.5 240.3,207.9 240.8,215.4 241.3,209.5 241.8,214.9 242.3,204.9 242.8,216.4 243.3,207.0 243.8,216.3 244.3,207.3 244.8,208.3 245.3,202.4 245.8,207.9 246.3,205.5 246.8,215.5 247.3,204.5 247.8,212.4 248.3,201.0 248.8,209.9 249.3,203.8 249.8,213.9 250.3,199.8 250.8,205.6 251.3,207.1 251.8,209.9 252.3,201.1 252.8,208.5 253.3,202.7 253.8,208.3 254.3,207.9 254.8,210.6 255.3,200.0 255.8,208.8 256.3,204.9 256.8,210.2 257.3,203.1 257.8,212.2 258.3,204.4 258.8,211.7 259.3,203.0 259.8,213.1 260.3,205.6 260.8,213.2 261.3,206.6 261.8,207.9 262.3,199.4 262.8,206.1 263.3,201.4 263.8,209.6 264.3,200.3 264.8,204.9 265.3,201.0 265.8,211.1 266.3,202.2 266.8,213.9 267.3,202.5 267.8,208.6 268.3,201.7 268.8,205.5 269.3,196.4 269.8,211.0 270.3,206.4 270.8,209.7 271.3,200.4 271.8,206.7 272.3,200.6 272.8,202.4 273.3,201.7 273.8,208.1 274.3,200.6 274.8,208.8 275.3,196.5 275.8,209.0 276.3,200.7 276.8,200.6 277.3,199.9 277.8,207.0 278.3,204.1 278.8,203.5 279.3,197.4 279.8,208.6 280.3,200.2 280.8,204.9 281.3,196.9 281.8,204.5 282.3,196.3 282.8,207.2 283.3,197.9 283.8,205.7 284.3,201.1 284.8,206.9 285.3,198.7 285.8,203.9 286.3,197.4 286.8,204.6 287.3,199.1 287.8,203.9 288.3,200.5 288.8,211.2 289.3,194.4 289.8,204.4 290.3,193.2 290.8,204.9 291.3,199.1 291.8,203.1 292.3,193.4 292.8,204.3 293.3,201.0 293.8,207.1 294.3,199.2 294.8,201.5 295.3,197.6 295.8,206.1 296.3,195.6 296.8,202.2 297.3,196.9 297.8,205.3 298.3,196.1 298.8,201.3 299.3,194.9 299.8,204.9 300.3,195.4 300.8,205.4 301.3,195.1 301.8,206.6 302.3,197.6 302.8,202.4 303.3,196.3 303.8,205.8 304.3,195.8 304.8,199.6 305.3,193.2 305.8,199.0 306.3,200.0 306.8,206.8 307.3,195.4 307.8,203.6 308.3,190.7 308.8,205.9 309.3,196.9 309.8,203.2 310.3,197.2 310.8,202.4 311.3,193.1 311.8,199.1 312.3,194.5 312.8,202.0 313.3,194.9 313.8,200.7 314.3,195.9 314.8,198.0 315.3,196.4 315.8,202.3 316.3,189.4 316.8,200.8 317.3,195.3 317.8,200.9 318.3,199.6 318.8,202.1 319.3,198.4 319.8,200.5 320.3,195.8 320.8,205.2 321.3,192.5 321.8,197.7 322.3,192.6 322.8,198.8 323.3,190.9 323.8,199.5 324.3,196.3 324.8,199.1 325.3,192.9 325.8,207.1 326.3,191.6 326.8,198.5 327.3,192.7 327.8,200.5 328.3,192.0 328.8,200.7 329.3,193.6 329.8,200.1 330.3,191.3 330.8,199.2 331.3,189.0 331.8,195.6 332.3,192.3 332.8,198.7 333.3,194.2 333.8,200.4 334.3,191.9 334.8,204.5 335.3,194.3 335.8,203.1 336.3,189.4 336.8,201.7 337.3,194.6 337.8,201.5 338.3,190.8 338.8,202.1 339.3,191.9 339.8,196.6 340.3,188.8 340.8,198.1 341.3,190.8 341.8,201.2 342.3,194.4 342.8,200.9 343.3,190.5 343.8,198.3"/>
<polygon fill="#111" points="60.8,642.0 61.9,605.8 62.9,584.2 64.0,569.9 65.1,557.9 66.1,547.7 67.2,540.2 68.3,534.5 69.3,529.2 70.4,524.2 71.5,519.4 72.5,512.8 73.4,508.2 73.4,508.8 74.5,508.7 75.6,508.4 76.6,508.1 77.6,507.9 78.7,507.7 80.4,506.6 81.5,502.8 82.5,496.8 83.5,491.9 84.4,489.5 85.4,487.6 86.3,485.9 87.3,484.7 88.2,483.4 89.2,482.3 90.3,480.8 91.2,479.3 92.2,478.4 93.2,477.3 94.2,476.3 95.1,475.2 96.1,474.5 97.0,473.4 98.0,473.0 99.1,471.9 99.8,471.4 100.7,471.1 101.9,470.6 103.0,469.8 103.9,469.3 104.8,468.7 105.7,468.4 106.9,467.9 107.8,467.3 108.8,466.9 109.8,466.4 110.8,466.1 111.9,465.4 113.0,464.8 113.9,464.0 114.9,463.7 116.0,462.9 116.8,462.4 117.7,462.1 118.9,461.5 120.1,460.6 120.9,459.9 121.9,459.5 122.9,458.8 123.8,458.2 124.9,457.8 125.8,457.1 126.8,456.9 127.8,456.2 128.7,455.9 129.7,455.5 130.7,455.2 131.8,454.8 132.6,454.3 133.5,454.4 134.5,454.0 135.8,453.9 137.0,452.8 137.8,452.5 138.8,451.9 139.6,451.6 140.5,451.4 141.7,451.2 142.6,450.8 143.5,450.8 144.6,450.5 145.4,450.2 146.3,450.4 147.6,450.1 148.5,450.0 149.3,449.9 150.5,449.9 151.6,449.5 152.7,449.4 153.9,448.7 154.9,448.0 155.9,447.5 156.7,447.0 157.5,446.9 158.6,446.7 159.7,446.4 160.8,446.0 161.6,445.6 162.4,445.6 163.3,445.4 164.2,445.6 165.3,445.6 166.1,445.6 167.4,445.9 168.6,445.4 169.4,445.3 170.3,445.4 171.4,445.3 172.5,445.1 173.7,444.8 174.7,444.4 175.5,444.2 176.6,444.1 177.6,443.7 178.4,443.6 179.4,443.5 180.5,443.4 181.7,443.1 182.8,442.7 183.6,442.2 184.3,442.2 185.5,442.2 186.5,441.8 187.4,442.0 188.6,441.5 189.5,441.3 190.5,441.3 191.4,441.0 192.4,441.1 193.5,440.9 194.6,440.8 195.4,440.4 196.4,440.6 197.6,440.2 198.7,439.9 199.5,439.5 200.3,439.7 201.3,439.5 202.2,439.7 203.3,439.7 204.5,439.7 205.6,439.4 206.4,439.2 207.5,439.3 208.5,438.9 209.4,438.9 210.4,438.8 211.4,438.7 212.7,438.5 213.7,437.9 214.5,437.8 215.3,437.8 216.3,437.9 217.5,437.7 218.3,437.6 219.4,437.8 220.7,437.4 221.6,437.1 222.4,436.9 223.3,437.0 224.3,436.9 225.3,437.0 226.3,436.9 227.1,436.9 228.1,437.3 229.4,437.3 230.3,437.2 231.1,437.2 232.1,437.6 233.3,437.6 234.3,437.6 235.1,437.6 236.2,437.9 237.3,437.8 238.4,437.8 239.6,437.6 240.2,437.4 241.3,437.7 242.7,437.3 243.6,437.0 244.4,437.0 245.4,436.8 246.3,436.7 247.4,436.8 248.4,436.6 249.1,436.6 250.2,436.9 251.5,436.7 252.2,436.6 253.1,436.9 254.3,436.9 255.2,437.0 256.4,437.1 257.3,436.8 258.4,437.0 259.6,436.7 260.4,436.5 261.2,436.5 262.2,436.7 263.5,436.6 264.5,436.2 265.4,436.2 266.5,436.0 267.5,435.9 268.3,435.7 269.0,435.9 270.1,436.2 271.2,436.3 272.4,436.4 273.3,436.1 274.2,436.3 275.2,436.3 276.2,436.5 277.5,436.5 278.5,436.2 279.6,436.2 280.6,435.6 281.3,435.7 282.3,435.6 283.4,435.7 284.6,435.5 285.6,435.2 286.6,434.9 287.5,434.6 288.4,434.7 289.2,434.5 289.9,434.8 291.4,435.2 292.5,434.8 293.1,434.9 294.4,435.1 295.4,434.8 296.1,434.9 297.1,435.0 298.0,435.3 299.5,435.5 300.8,434.8 301.6,434.6 302.4,434.4 303.4,434.4 304.2,434.2 305.1,434.6 306.2,434.6 307.1,434.8 308.5,434.9 309.4,434.6 310.0,434.7 311.1,435.1 312.3,435.2 313.3,435.1 314.4,435.2 315.7,434.9 316.5,434.6 317.6,434.6 318.6,434.0 319.2,434.2 320.3,434.2 321.5,434.1 322.3,434.0 323.2,434.1 324.3,434.1 325.2,434.1 326.2,434.2 327.2,434.2 328.2,434.4 329.4,434.4 330.5,434.2 331.5,434.0 332.2,433.9 333.1,434.2 334.2,434.2 335.2,434.3 336.2,434.3 337.2,434.4 338.4,434.5 339.3,434.3 340.0,434.4 341.1,434.7 342.3,434.9 343.5,434.7 344.4,434.5 345.3,434.5 345.3,432.1 344.2,432.1 343.1,432.3 342.3,432.5 341.5,432.4 340.6,432.1 339.3,431.9 338.2,432.1 337.4,432.1 336.4,432.0 335.4,431.9 334.4,431.8 333.5,431.8 332.4,431.5 331.1,431.7 330.1,431.8 329.2,432.0 328.4,432.0 327.4,431.8 326.4,431.8 325.4,431.7 324.3,431.7 323.4,431.7 322.3,431.6 321.1,431.7 320.3,431.8 319.4,431.8 318.0,431.7 317.0,432.3 316.1,432.2 314.9,432.6 314.2,432.8 313.3,432.7 312.3,432.8 311.5,432.8 310.6,432.4 309.2,432.2 308.1,432.6 307.5,432.5 306.4,432.2 305.5,432.3 304.4,431.8 303.2,432.0 302.2,432.0 301.0,432.3 299.8,432.6 299.1,433.1 298.6,433.0 297.5,432.7 296.5,432.6 295.2,432.4 294.2,432.7 293.5,432.5 292.1,432.4 291.2,432.8 290.7,432.6 289.4,432.1 288.2,432.3 287.1,432.3 286.0,432.6 285.0,432.9 284.0,433.1 283.2,433.3 282.3,433.2 281.3,433.3 280.0,433.3 279.0,433.9 278.1,433.8 277.1,434.1 276.4,434.1 275.4,433.9 274.4,433.9 273.3,433.7 272.2,434.0 271.4,433.9 270.5,433.9 269.6,433.6 268.3,433.3 267.1,433.6 266.1,433.6 265.2,433.8 264.1,433.9 263.1,434.3 262.4,434.3 261.4,434.1 260.2,434.1 259.0,434.3 258.2,434.6 257.3,434.4 256.2,434.7 255.4,434.6 254.3,434.5 253.5,434.5 252.4,434.2 251.1,434.4 250.4,434.5 249.5,434.2 248.2,434.2 247.2,434.4 246.3,434.3 245.2,434.4 244.2,434.6 243.0,434.7 241.9,435.1 241.3,435.3 240.4,435.0 239.0,435.2 238.2,435.5 237.3,435.4 236.4,435.5 235.5,435.2 234.3,435.2 233.3,435.2 232.5,435.2 231.5,434.8 230.3,434.8 229.2,434.9 228.5,434.9 227.5,434.6 226.3,434.5 225.3,434.6 224.3,434.5 223.3,434.6 222.2,434.5 221.0,434.8 219.9,435.1 219.2,435.4 218.3,435.2 217.1,435.3 216.3,435.5 215.3,435.4 214.1,435.5 212.9,435.7 211.9,436.2 211.2,436.3 210.2,436.4 209.2,436.5 208.1,436.6 207.1,436.9 206.2,436.8 205.0,437.0 204.1,437.3 203.3,437.3 202.4,437.3 201.3,437.1 200.3,437.3 199.1,437.1 197.9,437.6 197.0,437.9 196.2,438.2 195.2,438.1 194.0,438.4 193.1,438.5 192.2,438.7 191.2,438.6 190.1,438.9 189.1,439.0 188.0,439.2 187.2,439.6 186.1,439.4 185.1,439.9 184.3,439.8 183.0,439.9 181.8,440.4 180.9,440.8 180.1,441.0 179.2,441.1 178.2,441.2 177.0,441.4 176.0,441.8 175.1,441.9 173.9,442.1 172.9,442.5 172.1,442.8 171.2,442.9 170.3,443.0 169.2,442.9 168.0,443.1 167.2,443.5 166.5,443.2 165.3,443.2 164.4,443.2 163.3,443.0 162.2,443.2 161.0,443.2 159.8,443.7 158.9,444.1 158.0,444.3 157.1,444.5 155.9,444.7 154.7,445.4 153.7,446.0 152.7,446.7 151.9,447.1 151.0,447.2 150.1,447.6 149.3,447.5 148.1,447.6 147.0,447.8 146.3,448.0 145.2,447.8 144.0,448.2 143.1,448.4 142.0,448.5 140.9,448.9 140.1,449.1 139.0,449.3 137.8,449.8 136.8,450.3 135.6,450.9 134.8,451.7 134.1,451.7 133.1,452.0 132.0,452.0 130.8,452.6 129.9,453.0 128.9,453.2 127.9,453.6 126.8,454.1 125.8,454.7 124.8,454.9 123.7,455.7 122.8,456.1 121.7,456.8 120.7,457.4 119.7,457.8 118.5,458.8 117.7,459.5 116.9,459.8 115.8,460.2 114.6,460.9 113.7,461.6 112.7,462.0 111.6,462.8 110.7,463.3 109.8,463.9 108.8,464.2 107.8,464.7 106.8,465.2 105.7,465.8 104.9,466.2 103.8,466.5 102.7,467.2 101.6,467.8 100.7,468.6 99.9,468.8 98.8,469.3 97.5,470.1 96.6,471.1 95.6,471.5 94.5,472.7 93.5,473.5 92.4,474.6 91.4,475.6 90.4,476.8 89.4,477.8 88.3,479.4 87.4,480.8 86.4,481.9 85.3,483.2 84.3,484.6 83.2,486.4 82.2,488.5 81.1,491.3 80.1,496.4 79.1,502.3 78.2,505.5 77.9,505.4 77.0,505.5 76.0,505.8 75.0,506.1 74.1,506.4 73.2,506.4 71.2,507.3 70.1,512.4 69.1,519.0 68.2,523.7 67.3,528.8 66.3,534.2 65.4,539.9 64.5,547.5 63.5,557.8 62.6,569.8 61.7,584.2 60.7,605.8 59.8,642.0"/><polyline fill="none" stroke="#111" stroke-width="1.00" stroke-linejoin="miter" points="60.3,645.3 60.8,617.8 61.3,604.9 61.8,589.5 62.3,589.6 62.8,574.1 63.3,570.4 63.8,559.5 64.3,558.6 64.8,547.6 65.3,557.9 65.8,544.3 66.3,550.0 66.8,535.2 67.3,537.6 67.8,523.8 68.3,533.7 68.8,521.9 69.3,526.9 69.8,517.9 70.3,523.2 70.8,512.4 71.3,530.0 71.8,497.0 72.3,515.8 72.8,506.0 73.3,511.4 73.8,499.0 74.3,511.0 74.8,503.5 75.3,518.2 75.8,505.7 76.3,518.2 76.8,500.7 77.3,512.9 77.8,498.1 78.3,510.3 78.8,498.7 79.3,507.9 79.8,495.9 80.3,509.2 80.8,486.3 81.3,500.0 81.8,488.4 82.3,498.2 82.8,488.3 83.3,499.6 83.8,489.5 84.3,494.7 84.8,483.9 85.3,487.2 85.8,481.4 86.3,486.9 86.8,480.7 87.3,486.1 87.8,476.3 88.3,489.9 88.8,473.2 89.3,485.0 89.8,479.0 90.3,481.1 90.8,473.4 91.3,481.7 91.8,480.3 92.3,481.3 92.8,471.7 93.3,480.6 93.8,471.3 94.3,472.7 94.8,467.9 95.3,480.0 95.8,470.7 96.3,474.9 96.8,462.0 97.3,479.6 97.8,466.3 98.3,477.2 98.8,471.2 99.3,475.6 99.8,467.4 100.3,471.6 100.8,465.5 101.3,472.6 101.8,461.7 102.3,474.1 102.8,455.9 103.3,467.8 103.8,463.3 104.3,468.7 104.8,460.8 105.3,467.3 105.8,461.2 106.3,479.1 106.8,459.9 107.3,471.9 107.8,458.1 108.3,469.2 108.8,457.3 109.3,470.5 109.8,462.0 110.3,467.8 110.8,463.2 111.3,461.2 111.8,460.8 112.3,467.0 112.8,461.0 113.3,464.5 113.8,457.9 114.3,472.1 114.8,461.0 115.3,467.0 115.8,457.9 116.3,459.8 116.8,457.0 117.3,459.8 117.8,454.7 118.3,464.6 118.8,457.6 119.3,465.4 119.8,456.6 120.3,461.2 120.8,454.9 121.3,467.9 121.8,458.4 122.3,457.2 122.8,454.1 123.3,467.3 123.8,454.1 124.3,459.7 124.8,450.4 125.3,456.0 125.8,452.4 126.3,458.4 126.8,450.2 127.3,456.8 127.8,449.1 128.3,456.6 128.8,449.1 129.3,457.8 129.8,448.7 130.3,459.2 130.8,457.2 131.3,458.6 131.8,445.6 132.3,454.8 132.8,449.3 133.3,456.2 133.8,446.6 134.3,454.8 134.8,451.5 135.3,450.2 135.8,449.6 136.3,452.8 136.8,447.5 137.3,454.3 137.8,449.4 138.3,455.9 138.8,447.9 139.3,460.6 139.8,445.2 140.3,454.6 140.8,448.6 141.3,451.3 141.8,443.8 142.3,454.0 142.8,448.4 143.3,455.1 143.8,446.0 144.3,456.6 144.8,446.0 145.3,452.1 145.8,448.7 146.3,455.3 146.8,443.2 147.3,454.8 147.8,440.7 148.3,452.4 148.8,449.3 149.3,455.5 149.8,445.3 150.3,453.6 150.8,444.3 151.3,452.2 151.8,445.0 152.3,447.6 152.8,444.9 153.3,454.3 153.8,444.2 154.3,450.5 154.8,442.9 155.3,447.7 155.8,440.4 156.3,454.8 156.8,440.9 157.3,452.8 157.8,447.8 158.3,450.8 158.8,435.4 159.3,452.1 159.8,440.3 160.3,447.3 160.8,444.5 161.3,448.8 161.8,441.0 162.3,443.1 162.8,442.6 163.3,441.3 163.8,444.0 164.3,448.6 164.8,445.3 165.3,453.2 165.8,445.9 166.3,454.9 166.8,440.0 167.3,449.4 167.8,442.2 168.3,446.7 168.8,437.8 169.3,447.0 169.8,437.0 170.3,444.9 170.8,442.2 171.3,448.2 171.8,443.8 172.3,445.0 172.8,437.1 173.3,445.8 173.8,439.9 174.3,445.9 174.8,441.0 175.3,446.7 175.8,436.8 176.3,449.4 176.8,440.6 177.3,447.2 177.8,439.3 178.3,446.2 178.8,443.7 179.3,447.8 179.8,436.7 180.3,442.7 180.8,433.4 181.3,445.7 181.8,440.3 182.3,446.8 182.8,439.6 183.3,448.6 183.8,436.9 184.3,447.0 184.8,439.1 185.3,442.0 185.8,434.8 186.3,445.5 186.8,431.5 187.3,444.8 187.8,431.6 188.3,444.7 188.8,430.2 189.3,445.7 189.8,441.3 190.3,442.5 190.8,433.5 191.3,442.0 191.8,438.3 192.3,446.2 192.8,438.2 193.3,442.4 193.8,440.4 194.3,442.6 194.8,438.8 195.3,441.3 195.8,434.8 196.3,442.8 196.8,433.3 197.3,440.8 197.8,437.3 198.3,438.7 198.8,434.5 199.3,443.1 199.8,436.9 200.3,439.1 200.8,438.6 201.3,440.0 201.8,433.8 202.3,439.2 202.8,438.3 203.3,441.8 203.8,433.7 204.3,442.2 204.8,437.2 205.3,438.6 205.8,434.0 206.3,440.9 206.8,439.5 207.3,440.7 207.8,432.8 208.3,440.7 208.8,434.9 209.3,439.5 209.8,431.7 210.3,434.9 210.8,430.5 211.3,439.1 211.8,433.9 212.3,440.6 212.8,432.1 213.3,446.8 213.8,434.4 214.3,445.0 214.8,433.4 215.3,440.6 215.8,430.0 216.3,440.1 216.8,435.3 217.3,442.6 217.8,438.1 218.3,440.6 218.8,429.9 219.3,439.8 219.8,429.4 220.3,443.2 220.8,434.9 221.3,439.0 221.8,429.4 222.3,438.2 222.8,436.0 223.3,437.2 223.8,430.3 224.3,439.0 224.8,435.1 225.3,440.0 225.8,432.9 226.3,438.4 226.8,430.3 227.3,442.2 227.8,433.5 228.3,435.9 228.8,433.5 229.3,439.5 229.8,433.5 230.3,439.0 230.8,431.0 231.3,437.0 231.8,430.8 232.3,440.9 232.8,434.3 233.3,440.7 233.8,431.1 234.3,439.5 234.8,433.6 235.3,441.9 235.8,435.2 236.3,443.0 236.8,435.2 237.3,438.7 237.8,429.3 238.3,438.8 238.8,428.8 239.3,435.2 239.8,434.1 240.3,435.1 240.8,436.3 241.3,443.0 241.8,440.3 242.3,443.5 242.8,438.5 243.3,436.6 243.8,431.5 244.3,440.5 244.8,431.1 245.3,441.5 245.8,432.6 246.3,435.7 246.8,435.9 247.3,436.2 247.8,439.5 248.3,433.9 248.8,430.5 249.3,437.7 249.8,432.8 250.3,434.9 250.8,431.8 251.3,439.7 251.8,434.2 252.3,434.2 252.8,432.9 253.3,438.1 253.8,434.9 254.3,439.0 254.8,429.7 255.3,436.8 255.8,436.9 256.3,436.7 256.8,433.9 257.3,436.0 257.8,437.7 258.3,439.9 258.8,429.4 259.3,439.4 259.8,434.2 260.3,439.7 260.8,432.9 261.3,439.8 261.8,428.6 262.3,438.2 262.8,431.2 263.3,439.1 263.8,429.7 264.3,443.6 264.8,431.2 265.3,435.9 265.8,430.1 266.3,440.4 266.8,432.5 267.3,440.3 267.8,430.7 268.3,435.5 268.8,433.5 269.3,441.1 269.8,428.6 270.3,434.0 270.8,430.9 271.3,436.8 271.8,435.7 272.3,438.8 272.8,427.5 273.3,438.8 273.8,429.5 274.3,426.4 274.8,431.6 275.3,439.6 275.8,435.0 276.3,436.7 276.8,431.2 277.3,438.4 277.8,436.3 278.3,435.3 278.8,430.2 279.3,441.5 279.8,429.8 280.3,443.0 280.8,429.9 281.3,437.0 281.8,429.4 282.3,437.7 282.8,432.7 283.3,436.3 283.8,428.9 284.3,435.4 284.8,429.7 285.3,436.1 285.8,429.6 286.3,438.2 286.8,426.6 287.3,434.4 287.8,432.5 288.3,436.2 288.8,425.9 289.3,437.7 289.8,426.9 290.3,438.3 290.8,429.7 291.3,436.0 291.8,427.7 292.3,435.1 292.8,430.0 293.3,437.2 293.8,430.9 294.3,436.9 294.8,429.1 295.3,438.1 295.8,436.4 296.3,438.4 296.8,429.2 297.3,434.6 297.8,431.2 298.3,434.3 298.8,433.2 299.3,437.7 299.8,429.2 300.3,438.3 300.8,427.5 301.3,431.3 301.8,430.0 302.3,438.7 302.8,429.5 303.3,439.7 303.8,425.6 304.3,435.9 304.8,432.4 305.3,439.4 305.8,426.5 306.3,438.0 306.8,428.8 307.3,436.7 307.8,429.3 308.3,438.7 308.8,434.0 309.3,433.8 309.8,430.9 310.3,439.0 310.8,429.1 311.3,436.1 311.8,429.7 312.3,441.1 312.8,427.8 313.3,432.5 313.8,427.3 314.3,438.3 314.8,433.8 315.3,438.3 315.8,432.0 316.3,435.5 316.8,429.1 317.3,434.3 317.8,429.5 318.3,432.8 318.8,431.3 319.3,437.5 319.8,429.8 320.3,434.2 320.8,426.5 321.3,438.7 321.8,429.8 322.3,433.0 322.8,429.5 323.3,439.2 323.8,429.6 324.3,435.8 324.8,429.9 325.3,434.2 325.8,429.8 326.3,437.1 326.8,428.8 327.3,437.9 327.8,430.0 328.3,434.6 328.8,430.4 329.3,438.6 329.8,426.8 330.3,436.9 330.8,431.2 331.3,432.0 331.8,430.2 332.3,435.4 332.8,425.3 333.3,437.1 333.8,426.3 334.3,432.2 334.8,426.9 335.3,436.8 335.8,427.0 336.3,433.3 336.8,429.0 337.3,436.1 337.8,431.6 338.3,433.4 338.8,428.7 339.3,436.0 339.8,433.6 340.3,438.0 340.8,432.8 341.3,433.8 341.8,429.7 342.3,435.4 342.8,431.7 343.3,431.5 343.8,430.1 344.3,439.4 344.8,429.3 345.3,443.2 345.8,433.2"/>
<polygon fill="#111" points="61.5,642.0 62.6,630.8 63.6,619.4 64.7,607.7 65.8,595.0 66.8,584.2 67.9,575.8 69.0,568.9 70.0,562.7 71.1,557.3 72.2,552.7 73.2,548.2 74.2,543.7 75.2,539.5 76.2,535.1 77.2,531.4 78.1,527.9 79.1,525.0 80.1,522.4 81.1,520.3 82.1,518.1 83.0,516.3 83.9,515.1 84.9,514.1 85.8,513.0 86.7,512.4 87.6,511.7 88.5,511.3 89.6,510.8 90.6,510.1 91.5,509.7 92.7,509.1 93.7,508.2 94.6,507.8 95.6,507.2 96.5,506.7 97.7,506.2 98.8,505.0 99.7,504.2 100.6,503.7 101.8,502.9 102.8,501.8 103.7,501.1 104.7,500.4 105.7,499.7 106.7,499.0 107.6,498.2 108.4,498.0 109.6,497.5 110.7,496.8 111.8,495.9 112.6,495.2 113.6,494.7 114.7,494.0 115.7,493.4 116.7,492.6 117.6,492.0 118.7,491.3 119.7,490.5 120.6,489.8 121.6,489.4 122.7,488.7 123.6,488.0 124.7,487.4 125.7,486.5 126.7,485.9 127.7,485.1 128.7,484.3 129.7,483.6 130.7,483.0 131.7,482.3 132.6,481.6 133.5,481.2 134.6,480.7 135.6,480.0 136.5,479.5 137.5,479.2 138.6,478.6 139.4,478.2 140.5,478.0 141.4,477.4 142.3,477.3 143.6,476.8 144.6,476.2 145.6,475.7 146.5,475.1 147.3,475.0 148.5,474.6 149.6,474.0 150.5,473.5 151.4,473.3 152.3,472.8 153.2,472.7 154.3,472.4 155.1,472.2 155.9,472.3 157.4,472.3 158.5,471.5 159.1,471.5 160.1,471.4 161.0,471.3 162.2,471.3 163.3,470.9 164.1,470.8 165.3,470.7 166.6,470.0 167.3,469.7 168.1,469.6 169.2,469.5 170.4,469.1 171.4,468.7 172.4,468.4 173.3,468.1 174.4,467.9 175.5,467.2 176.4,467.0 177.4,466.6 178.5,466.1 179.3,465.8 180.2,465.8 181.4,465.4 182.5,464.9 183.4,464.5 184.3,464.2 185.3,464.1 186.3,463.8 187.3,463.5 188.5,463.2 189.4,462.6 190.4,462.4 191.4,461.9 192.3,461.7 193.3,461.4 194.3,461.3 195.4,460.9 196.3,460.6 197.3,460.5 198.2,460.2 199.0,460.2 200.1,460.1 201.0,460.0 202.0,460.1 203.3,460.0 204.2,459.5 205.2,459.6 206.4,459.2 207.3,458.8 208.2,458.8 209.2,458.5 210.3,458.4 211.5,457.9 212.5,457.4 213.4,457.2 214.2,456.8 215.3,456.8 216.5,456.1 217.2,455.9 218.1,455.9 219.3,455.7 220.3,455.4 221.1,455.2 222.1,455.3 223.2,455.0 224.2,454.9 225.4,454.6 226.1,454.2 226.8,454.5 228.0,454.5 229.0,454.6 230.3,454.4 231.1,454.1 232.0,454.3 233.0,454.2 234.0,454.4 235.1,454.2 236.2,454.2 237.4,453.9 238.4,453.5 239.1,453.3 239.9,453.3 240.9,453.5 242.1,453.5 243.2,453.4 244.4,453.0 245.3,452.7 246.1,452.5 247.0,452.7 247.9,452.6 248.9,452.8 250.1,452.7 251.3,452.5 252.3,452.1 253.3,452.1 254.2,451.7 255.1,451.8 256.2,451.6 257.2,451.5 258.3,451.3 259.5,450.9 260.5,450.3 261.4,450.0 262.3,449.7 263.1,449.6 263.9,449.5 265.1,449.7 266.3,449.3 267.3,449.1 268.2,448.9 269.4,448.7 270.4,448.2 271.0,448.1 272.1,448.3 273.2,447.9 274.1,447.9 275.3,447.8 276.3,447.4 277.3,447.2 278.3,446.9 279.0,446.8 280.0,446.9 281.3,446.7 282.2,446.4 283.2,446.3 284.5,445.9 285.5,445.3 286.2,445.0 287.1,445.0 288.3,444.8 289.5,444.5 290.5,443.9 291.3,443.5 292.1,443.5 293.1,443.4 294.0,443.3 295.1,443.3 296.1,443.2 297.2,443.2 298.3,442.8 299.1,442.6 300.0,442.6 301.3,442.6 302.4,442.1 303.3,441.8 304.2,441.6 305.2,441.5 306.3,441.3 307.3,440.9 308.3,440.8 309.2,440.4 310.2,440.5 311.1,440.2 312.1,440.3 313.4,439.9 314.4,439.5 315.3,439.3 316.2,439.1 317.0,439.1 318.0,439.1 319.2,439.1 320.2,438.8 321.1,438.8 322.1,438.6 323.0,438.7 324.0,438.7 325.2,438.7 326.3,438.3 327.3,438.1 328.3,437.8 329.1,437.7 330.3,437.6 331.5,437.0 332.4,436.7 333.4,436.4 334.3,436.1 335.1,436.0 336.0,435.9 337.2,436.0 338.1,435.7 338.9,435.7 339.9,435.8 341.0,435.9 341.9,435.9 342.9,436.0 343.9,436.0 345.0,436.1 346.2,436.0 345.8,433.6 345.0,433.8 344.1,433.7 343.1,433.6 342.1,433.5 341.0,433.5 340.1,433.4 339.1,433.4 337.9,433.3 336.8,433.6 336.0,433.5 334.9,433.6 333.7,433.7 332.6,434.1 331.6,434.4 330.5,434.8 329.7,435.3 328.9,435.3 327.7,435.5 326.7,435.7 325.7,436.0 324.8,436.3 324.0,436.3 323.0,436.3 321.9,436.2 320.9,436.4 319.8,436.4 318.8,436.7 318.0,436.7 317.0,436.7 315.8,436.7 314.7,437.0 313.6,437.2 312.6,437.7 311.9,437.9 310.9,437.8 309.8,438.1 308.8,438.1 307.7,438.5 306.7,438.6 305.7,439.0 304.8,439.1 303.8,439.2 302.7,439.5 301.6,439.8 300.7,440.2 300.0,440.2 298.9,440.2 297.7,440.5 296.8,440.8 295.9,440.8 294.9,440.9 294.0,440.9 292.9,441.0 291.9,441.1 290.7,441.2 289.5,441.7 288.5,442.2 287.7,442.4 286.9,442.6 285.8,442.6 284.5,443.1 283.5,443.7 282.8,444.0 281.8,444.0 280.7,444.4 280.0,444.5 279.0,444.4 277.7,444.5 276.7,444.9 275.7,445.1 274.7,445.5 273.9,445.5 272.8,445.5 271.9,445.9 271.0,445.7 269.6,445.9 268.6,446.4 267.8,446.5 266.7,446.7 265.7,447.0 264.9,447.3 264.1,447.1 262.9,447.2 261.7,447.4 260.6,447.8 259.5,448.1 258.5,448.7 257.7,448.9 256.8,449.1 255.8,449.3 254.9,449.4 253.8,449.4 252.7,449.7 251.7,449.8 250.7,450.2 249.9,450.3 249.1,450.4 248.1,450.2 247.0,450.3 245.9,450.1 244.7,450.4 243.6,450.7 242.8,451.0 241.9,451.1 241.1,451.1 240.1,450.9 238.9,451.0 237.6,451.2 236.6,451.6 235.8,451.8 234.9,451.8 234.0,452.0 233.0,451.8 232.0,451.9 230.9,451.7 229.7,452.1 229.0,452.2 228.0,452.1 227.2,452.1 225.9,451.8 224.6,452.4 223.8,452.6 222.8,452.7 221.9,452.9 220.9,452.8 219.7,453.1 218.7,453.4 217.9,453.5 216.8,453.5 215.5,454.0 214.7,454.5 213.8,454.5 212.6,454.9 211.5,455.2 210.5,455.8 209.7,456.0 208.8,456.1 207.8,456.4 206.7,456.5 205.6,457.0 204.8,457.2 203.8,457.2 202.7,457.7 202.0,457.7 201.0,457.6 199.9,457.7 199.0,457.8 197.8,457.8 196.7,458.1 195.7,458.3 194.6,458.6 193.7,458.9 192.7,459.0 191.7,459.4 190.6,459.6 189.6,460.2 188.6,460.4 187.5,461.0 186.7,461.2 185.7,461.4 184.7,461.7 183.7,461.9 182.6,462.3 181.5,462.7 180.6,463.2 179.8,463.4 178.7,463.5 177.5,463.9 176.6,464.3 175.6,464.7 174.5,465.0 173.6,465.6 172.7,465.7 171.6,466.1 170.6,466.5 169.6,466.9 168.8,467.2 167.9,467.2 166.7,467.3 165.4,467.9 164.7,468.4 163.9,468.4 162.7,468.6 161.8,468.9 161.0,468.9 159.9,469.0 158.9,469.1 157.5,469.3 156.6,470.0 156.1,469.9 154.9,469.8 153.7,470.1 152.8,470.4 151.7,470.5 150.6,471.0 149.5,471.3 148.4,471.9 147.5,472.4 146.7,472.7 145.5,472.9 144.4,473.6 143.4,474.0 142.4,474.6 141.7,475.0 140.6,475.1 139.5,475.7 138.6,475.9 137.4,476.5 136.5,477.0 135.5,477.3 134.4,477.9 133.4,478.6 132.5,479.0 131.4,479.6 130.3,480.3 129.3,481.0 128.3,481.6 127.3,482.4 126.3,483.2 125.3,483.9 124.3,484.6 123.3,485.5 122.4,486.0 121.3,486.7 120.4,487.2 119.4,487.8 118.3,488.6 117.3,489.4 116.4,490.0 115.3,490.6 114.3,491.4 113.3,492.0 112.4,492.7 111.4,493.2 110.2,494.0 109.3,494.9 108.4,495.4 107.6,495.7 106.4,496.1 105.3,497.1 104.3,497.7 103.3,498.5 102.3,499.2 101.2,500.0 100.2,501.1 99.4,501.7 98.3,502.3 97.2,503.3 96.3,504.2 95.5,504.5 94.4,505.1 93.4,505.7 92.3,506.3 91.3,507.1 90.5,507.5 89.4,508.0 88.4,508.7 87.5,509.1 86.4,509.7 85.3,510.4 84.2,511.3 83.1,512.5 82.1,513.6 81.0,515.1 79.9,517.1 78.9,519.3 77.9,521.4 76.9,524.2 75.9,527.2 74.8,530.8 73.8,534.6 72.8,538.9 71.8,543.1 70.8,547.7 69.8,552.2 68.9,556.9 68.0,562.3 67.0,568.6 66.1,575.5 65.2,584.0 64.2,594.9 63.3,607.6 62.4,619.3 61.4,630.7 60.5,642.0"/><polyline fill="none" stroke="#111" stroke-width="1.00" stroke-linejoin="miter" points="61.0,641.7 61.5,629.3 62.0,631.7 62.5,624.8 63.0,620.9 63.5,607.0 64.0,610.9 64.5,596.2 65.0,597.1 65.5,584.7 66.0,589.2 66.5,576.4 67.0,574.5 67.5,565.0 68.0,574.6 68.5,565.5 69.0,567.7 69.5,552.7 70.0,559.1 70.5,552.1 71.0,543.9 71.5,545.2 72.0,550.4 72.5,546.0 73.0,545.1 73.5,533.4 74.0,550.6 74.5,537.3 75.0,535.7 75.5,520.5 76.0,537.6 76.5,522.7 77.0,531.9 77.5,523.1 78.0,530.7 78.5,514.8 79.0,519.8 79.5,520.4 80.0,530.3 80.5,516.5 81.0,525.3 81.5,515.6 82.0,523.6 82.5,512.7 83.0,524.7 83.5,501.4 84.0,516.2 84.5,505.7 85.0,520.5 85.5,500.0 86.0,510.4 86.5,510.7 87.0,513.1 87.5,507.7 88.0,510.2 88.5,505.9 89.0,509.7 89.5,502.1 90.0,508.8 90.5,507.2 91.0,508.9 91.5,504.0 92.0,509.3 92.5,500.6 93.0,515.3 93.5,503.5 94.0,507.7 94.5,503.7 95.0,511.6 95.5,500.0 96.0,513.1 96.5,503.4 97.0,513.2 97.5,498.4 98.0,506.6 98.5,500.8 99.0,510.0 99.5,497.0 100.0,504.9 100.5,498.3 101.0,499.3 101.5,499.5 102.0,509.3 102.5,494.9 103.0,505.1 103.5,492.8 104.0,510.5 104.5,498.9 105.0,500.9 105.5,501.3 106.0,499.0 106.5,497.1 107.0,498.2 107.5,492.0 108.0,502.4 108.5,491.4 109.0,505.2 109.5,497.9 110.0,497.7 110.5,499.4 111.0,499.2 111.5,491.2 112.0,499.1 112.5,488.1 113.0,502.0 113.5,487.2 114.0,495.6 114.5,492.4 115.0,492.8 115.5,486.4 116.0,492.4 116.5,484.0 117.0,496.1 117.5,482.2 118.0,494.5 118.5,483.8 119.0,498.8 119.5,492.9 120.0,494.4 120.5,487.1 121.0,495.1 121.5,490.7 122.0,486.6 122.5,482.0 123.0,488.1 123.5,481.0 124.0,491.3 124.5,483.1 125.0,486.6 125.5,484.1 126.0,492.4 126.5,480.8 127.0,490.6 127.5,479.9 128.0,486.3 128.5,479.6 129.0,482.1 129.5,480.0 130.0,488.8 130.5,475.9 131.0,483.6 131.5,473.9 132.0,483.6 132.5,473.7 133.0,482.4 133.5,471.2 134.0,479.4 134.5,473.2 135.0,480.7 135.5,480.2 136.0,479.7 136.5,470.4 137.0,478.9 137.5,473.9 138.0,482.7 138.5,475.7 139.0,479.3 139.5,470.2 140.0,479.4 140.5,471.3 141.0,476.4 141.5,472.6 142.0,479.3 142.5,473.5 143.0,478.4 143.5,481.6 144.0,479.5 144.5,472.4 145.0,480.3 145.5,471.6 146.0,481.0 146.5,466.0 147.0,476.2 147.5,464.9 148.0,472.3 148.5,469.3 149.0,480.7 149.5,469.8 150.0,476.9 150.5,463.8 151.0,476.0 151.5,464.6 152.0,477.2 152.5,470.9 153.0,474.6 153.5,471.2 154.0,471.0 154.5,468.3 155.0,471.9 155.5,468.3 156.0,472.9 156.5,462.0 157.0,473.4 157.5,466.1 158.0,481.1 158.5,461.4 159.0,474.0 159.5,469.7 160.0,479.9 160.5,470.3 161.0,473.3 161.5,471.4 162.0,473.8 162.5,464.6 163.0,471.1 163.5,462.4 164.0,477.1 164.5,463.5 165.0,468.3 165.5,465.7 166.0,472.1 166.5,467.8 167.0,472.1 167.5,465.8 168.0,471.3 168.5,460.1 169.0,469.5 169.5,465.2 170.0,472.7 170.5,462.0 171.0,473.9 171.5,464.6 172.0,469.1 172.5,459.8 173.0,469.0 173.5,459.9 174.0,467.7 174.5,455.9 175.0,466.3 175.5,463.5 176.0,460.1 176.5,464.5 177.0,468.4 177.5,459.8 178.0,467.7 178.5,462.9 179.0,466.2 179.5,466.3 180.0,468.1 180.5,459.0 181.0,463.5 181.5,461.3 182.0,471.2 182.5,457.4 183.0,468.8 183.5,460.8 184.0,465.3 184.5,459.7 185.0,464.0 185.5,455.0 186.0,470.3 186.5,459.9 187.0,465.7 187.5,460.0 188.0,459.8 188.5,459.3 189.0,461.6 189.5,460.3 190.0,464.0 190.5,454.9 191.0,465.2 191.5,458.1 192.0,465.6 192.5,450.8 193.0,461.3 193.5,459.1 194.0,459.3 194.5,456.5 195.0,466.4 195.5,459.1 196.0,463.3 196.5,456.5 197.0,466.2 197.5,454.2 198.0,460.6 198.5,455.0 199.0,458.3 199.5,454.8 200.0,468.0 200.5,455.4 201.0,459.6 201.5,459.5 202.0,460.6 202.5,455.9 203.0,465.3 203.5,450.2 204.0,461.2 204.5,453.6 205.0,464.4 205.5,452.7 206.0,466.0 206.5,454.2 207.0,464.5 207.5,457.1 208.0,459.2 208.5,452.5 209.0,458.2 209.5,453.8 210.0,458.9 210.5,454.2 211.0,458.3 211.5,452.5 212.0,457.9 212.5,456.7 213.0,465.3 213.5,457.2 214.0,459.0 214.5,452.0 215.0,461.1 215.5,455.1 216.0,458.2 216.5,449.3 217.0,457.4 217.5,451.3 218.0,461.5 218.5,455.0 219.0,458.2 219.5,450.6 220.0,462.4 220.5,451.8 221.0,458.7 221.5,452.7 222.0,459.9 222.5,454.9 223.0,456.9 223.5,449.2 224.0,457.2 224.5,437.6 225.0,455.5 225.5,448.8 226.0,456.7 226.5,445.8 227.0,456.7 227.5,448.8 228.0,465.2 228.5,448.8 229.0,456.9 229.5,451.4 230.0,456.6 230.5,448.9 231.0,454.5 231.5,450.7 232.0,458.1 232.5,453.1 233.0,455.6 233.5,458.6 234.0,451.6 234.5,448.0 235.0,457.7 235.5,447.8 236.0,456.7 236.5,449.1 237.0,458.7 237.5,447.4 238.0,454.9 238.5,451.9 239.0,455.8 239.5,443.6 240.0,459.0 240.5,449.9 241.0,457.2 241.5,457.6 242.0,454.2 242.5,447.7 243.0,458.0 243.5,448.3 244.0,453.6 244.5,444.4 245.0,459.5 245.5,448.7 246.0,449.8 246.5,450.9 247.0,456.1 247.5,445.5 248.0,456.6 248.5,448.4 249.0,455.3 249.5,451.6 250.0,452.4 250.5,454.4 251.0,457.4 251.5,443.4 252.0,460.0 252.5,446.8 253.0,452.8 253.5,448.1 254.0,452.0 254.5,444.3 255.0,453.5 255.5,447.7 256.0,450.8 256.5,449.0 257.0,443.2 257.5,447.7 258.0,449.5 258.5,448.5 259.0,451.3 259.5,448.6 260.0,451.6 260.5,446.1 261.0,455.7 261.5,446.0 262.0,451.7 262.5,444.7 263.0,452.8 263.5,444.6 264.0,449.0 264.5,444.6 265.0,448.0 265.5,443.7 266.0,450.5 266.5,445.6 267.0,448.3 267.5,443.9 268.0,453.2 268.5,447.9 269.0,451.2 269.5,443.0 270.0,449.0 270.5,446.3 271.0,454.1 271.5,445.0 272.0,451.5 272.5,444.6 273.0,451.5 273.5,446.4 274.0,447.4 274.5,445.9 275.0,448.5 275.5,438.5 276.0,446.4 276.5,439.5 277.0,452.1 277.5,445.0 278.0,450.6 278.5,440.7 279.0,449.9 279.5,439.3 280.0,444.9 280.5,440.2 281.0,447.0 281.5,438.3 282.0,444.8 282.5,445.6 283.0,446.1 283.5,441.4 284.0,446.0 284.5,443.1 285.0,448.7 285.5,441.2 286.0,448.8 286.5,436.5 287.0,442.9 287.5,437.5 288.0,444.0 288.5,438.7 289.0,447.0 289.5,442.7 290.0,447.0 290.5,436.0 291.0,446.2 291.5,440.6 292.0,443.5 292.5,438.7 293.0,444.5 293.5,441.6 294.0,444.9 294.5,438.7 295.0,443.7 295.5,434.0 296.0,445.3 296.5,435.6 297.0,447.5 297.5,440.2 298.0,447.3 298.5,438.8 299.0,442.4 299.5,437.6 300.0,448.7 300.5,438.4 301.0,446.3 301.5,439.0 302.0,445.3 302.5,436.2 303.0,443.3 303.5,435.6 304.0,447.3 304.5,435.8 305.0,440.3 305.5,436.3 306.0,443.0 306.5,436.3 307.0,441.7 307.5,429.9 308.0,447.1 308.5,432.6 309.0,441.4 309.5,435.4 310.0,443.1 310.5,434.6 311.0,440.7 311.5,435.8 312.0,440.3 312.5,440.7 313.0,442.4 313.5,434.1 314.0,440.5 314.5,437.9 315.0,442.2 315.5,436.5 316.0,440.6 316.5,434.2 317.0,442.5 317.5,438.8 318.0,441.1 318.5,435.0 319.0,438.8 319.5,435.0 320.0,439.1 320.5,432.7 321.0,444.7 321.5,433.8 322.0,443.5 322.5,434.6 323.0,440.6 323.5,435.3 324.0,442.3 324.5,437.8 325.0,437.7 325.5,434.4 326.0,439.8 326.5,436.4 327.0,442.1 327.5,431.1 328.0,436.5 328.5,433.7 329.0,434.7 329.5,429.3 330.0,440.2 330.5,429.9 331.0,439.2 331.5,435.2 332.0,440.8 332.5,430.4 333.0,440.8 333.5,434.1 334.0,436.2 334.5,432.1 335.0,435.3 335.5,433.9 336.0,436.6 336.5,440.4 337.0,441.4 337.5,433.4 338.0,436.4 338.5,428.3 339.0,439.0 339.5,432.7 340.0,436.3 340.5,431.0 341.0,435.2 341.5,432.6 342.0,436.6 342.5,432.1 343.0,440.3 343.5,434.3 344.0,442.0 344.5,430.7 345.0,438.2 345.5,431.1 346.0,436.3"/>
<rect x="38.7" y="190.1" width="15.0" height="5.0" fill="#111"/><polyline fill="none" stroke="#111" stroke-width="1.2" points="38.2,195.9 38.7,192.4 39.1,192.3 39.6,192.7 40.0,195.2 40.5,188.5 40.9,194.0 41.4,188.0 41.8,194.9 42.3,191.3 42.7,196.3 43.2,191.0 43.6,192.4 44.1,187.2 44.5,198.0 45.0,191.5 45.4,199.0 45.9,191.9 46.3,193.6 46.8,192.1 47.2,196.4 47.7,190.2 48.1,193.9 48.6,189.9 49.0,195.1 49.5,191.4 49.9,195.5 50.4,192.6 50.8,194.0 51.3,190.7 51.7,196.2 52.2,188.4 52.6,193.3 53.1,191.6 53.5,196.2 54.0,189.6"/>
<rect x="48.7" y="428.0" width="5.3" height="8.0" fill="#111"/><polyline fill="none" stroke="#111" stroke-width="1.2" points="48.2,432.6 48.7,423.6 49.1,432.9 49.6,425.3 50.0,441.1 50.5,422.4 50.9,439.6 51.4,431.0 51.8,435.7 52.3,425.1 52.7,438.2 53.2,430.8 53.6,443.3 54.1,429.9"/>
<text x="72.25" y="213.50" font-size="16.97" textLength="62.46" lengthAdjust="spacingAndGlyphs">Normal</text>
<line x1="86.0" y1="215.3" x2="91.5" y2="222.0" stroke="#111" stroke-width="1.4"/><polygon fill="#111" points="97.7,229.6 86.4,223.6 94.1,217.3"/>
<text x="199.11" y="262.10" font-size="18.07" textLength="111.26" lengthAdjust="spacingAndGlyphs">Heart Failure</text>
<line x1="195.9" y1="256.9" x2="191.1" y2="251.2" stroke="#111" stroke-width="1.4"/><polygon fill="#111" points="184.8,243.7 196.2,249.5 188.6,255.9"/>
<text x="65.16" y="449.30" font-size="17.52" textLength="62.05" lengthAdjust="spacingAndGlyphs">Normal</text>
<line x1="125.1" y1="447" x2="125.1" y2="454" stroke="#111" stroke-width="1.4"/>
<line x1="79.0" y1="451.0" x2="84.0" y2="457.0" stroke="#111" stroke-width="1.4"/><polygon fill="#111" points="90.2,464.6 78.8,458.7 86.6,452.3"/>
<text x="191.57" y="497.10" font-size="18.07" textLength="110.90" lengthAdjust="spacingAndGlyphs">Heart Failure</text>
<line x1="189.0" y1="492.9" x2="183.9" y2="486.8" stroke="#111" stroke-width="1.4"/><polygon fill="#111" points="177.7,479.2 189.1,485.1 181.4,491.5"/>
<polyline fill="none" stroke="#111" stroke-width="3.5" points="176,267.9 176,324.5 246.4,324.5"/>
<text x="131.35" y="302.90" font-size="12.57" textLength="36.00" lengthAdjust="spacingAndGlyphs">50 pA</text>
<text x="209.56" y="312.00" font-size="12.29" textLength="48.35" lengthAdjust="spacingAndGlyphs">500&#160; ms</text>
<polyline fill="none" stroke="#111" stroke-width="3.5" points="176,504 176,576.7 247.1,576.7"/>
<text x="126.54" y="535.60" font-size="12.86" textLength="36.30" lengthAdjust="spacingAndGlyphs">50 pA</text>
<text x="212.65" y="560.90" font-size="12.86" textLength="48.86" lengthAdjust="spacingAndGlyphs">500&#160; ms</text>
<text class="serif" x="423.39" y="40.30" font-size="40.00" textLength="26.91" lengthAdjust="spacingAndGlyphs">B</text>
<line x1="528.3" y1="23.7" x2="528.3" y2="203.2" stroke="#333" stroke-width="1.4"/>
<line x1="523.3" y1="24.4" x2="528.3" y2="24.4" stroke="#333" stroke-width="1.4"/>
<text x="489.90" y="29.70" font-size="20.00" textLength="27.70" lengthAdjust="spacingAndGlyphs">0.7</text>
<line x1="523.3" y1="83.4" x2="528.3" y2="83.4" stroke="#333" stroke-width="1.4"/>
<text x="489.91" y="89.60" font-size="20.00" textLength="27.48" lengthAdjust="spacingAndGlyphs">0.6</text>
<line x1="523.3" y1="142.6" x2="528.3" y2="142.6" stroke="#333" stroke-width="1.4"/>
<text x="490.42" y="150.00" font-size="20.00" textLength="26.95" lengthAdjust="spacingAndGlyphs">0.5</text>
<line x1="523.3" y1="202.5" x2="528.3" y2="202.5" stroke="#333" stroke-width="1.4"/>
<text x="490.43" y="208.50" font-size="20.00" textLength="26.75" lengthAdjust="spacingAndGlyphs">0.4</text>
<line x1="538.3" y1="202.5" x2="794" y2="202.5" stroke="#333" stroke-width="1.4"/>
<rect x="598.4" y="125.2" width="50.9" height="78.1" fill="#c1c1c1"/>
<line x1="598.4" y1="202.5" x2="649.3" y2="202.5" stroke="#9a9a9a" stroke-width="1.0"/>
<polyline fill="none" stroke="#333" stroke-width="1.4" points="598.4,203.2 598.4,125.2 649.3,125.2 649.3,203.2"/>
<line x1="623.8" y1="125.2" x2="623.8" y2="112.4" stroke="#333" stroke-width="1.4"/>
<line x1="620.0" y1="112.4" x2="627.6" y2="112.4" stroke="#333" stroke-width="1.4"/>
<text x="595.25" y="108.20" font-size="15.43" textLength="65.31" lengthAdjust="spacingAndGlyphs">n=4&#160; (29)</text>
<text x="655.31" y="97.81" font-size="23.0" font-weight="bold" style="fill:#1a1a1a">*</text>
<rect x="682.5" y="48.8" width="51.7" height="154.6" fill="#c1c1c1"/>
<line x1="682.5" y1="202.5" x2="734.2" y2="202.5" stroke="#9a9a9a" stroke-width="1.0"/>
<polyline fill="none" stroke="#333" stroke-width="1.4" points="682.5,203.2 682.5,48.8 734.2,48.8 734.2,203.2"/>
<line x1="708.4" y1="48.8" x2="708.4" y2="39.0" stroke="#333" stroke-width="1.4"/>
<line x1="704.6" y1="39.0" x2="712.1" y2="39.0" stroke="#333" stroke-width="1.4"/>
<text x="676.44" y="33.00" font-size="16.86" textLength="76.69" lengthAdjust="spacingAndGlyphs">n=16 (77)</text>
<text x="751.12" y="27.41" font-size="23.0" font-weight="bold" style="fill:#1a1a1a">*</text>
<text x="587.01" y="227.50" font-size="20.14" textLength="72.00" lengthAdjust="spacingAndGlyphs">Normal</text>
<text x="681.91" y="227.50" font-size="20.14" textLength="66.07" lengthAdjust="spacingAndGlyphs">Failing</text>
<text x="550.74" y="41.20" font-size="22.75" textLength="70.86" lengthAdjust="spacingAndGlyphs">Human</text>
<text x="553.20" y="65.50" font-size="22.61" textLength="66.30" lengthAdjust="spacingAndGlyphs">Hearts</text>
<g transform="translate(475.5,0) rotate(-90)" style="stroke-width:0.45px"><text x="-129.90" y="0" font-size="31" style="stroke-width:0.8px">&#964;</text><text x="-114.40" y="0" font-size="31" style="stroke-width:1.1px">,</text><text x="-95.35" y="0" font-size="34.5" style="stroke-width:1.3px">s</text></g>
<text class="serif" x="422.35" y="281.30" font-size="38.33" textLength="27.50" lengthAdjust="spacingAndGlyphs">C</text>
<line x1="528.3" y1="264.2" x2="528.3" y2="444.4" stroke="#333" stroke-width="1.4"/>
<line x1="523.3" y1="264.9" x2="528.3" y2="264.9" stroke="#333" stroke-width="1.4"/>
<text x="490.81" y="270.90" font-size="20.00" textLength="27.48" lengthAdjust="spacingAndGlyphs">0.6</text>
<line x1="523.3" y1="326.0" x2="528.3" y2="326.0" stroke="#333" stroke-width="1.4"/>
<text x="490.81" y="333.50" font-size="20.00" textLength="27.48" lengthAdjust="spacingAndGlyphs">0.5</text>
<line x1="523.3" y1="385.5" x2="528.3" y2="385.5" stroke="#333" stroke-width="1.4"/>
<text x="490.82" y="391.50" font-size="20.00" textLength="27.28" lengthAdjust="spacingAndGlyphs">0.4</text>
<line x1="523.3" y1="443.7" x2="528.3" y2="443.7" stroke="#333" stroke-width="1.4"/>
<text x="490.81" y="449.70" font-size="20.00" textLength="27.48" lengthAdjust="spacingAndGlyphs">0.3</text>
<line x1="538.3" y1="443.9" x2="794" y2="443.9" stroke="#333" stroke-width="1.4"/>
<rect x="598.0" y="373.5" width="51.0" height="71.2" fill="#c1c1c1"/>
<line x1="598.0" y1="443.9" x2="649.0" y2="443.9" stroke="#9a9a9a" stroke-width="1.0"/>
<polyline fill="none" stroke="#333" stroke-width="1.4" points="598.0,444.6 598.0,373.5 649.0,373.5 649.0,444.6"/>
<line x1="623.5" y1="373.5" x2="623.5" y2="363.5" stroke="#333" stroke-width="1.4"/>
<line x1="619.7" y1="363.5" x2="627.3" y2="363.5" stroke="#333" stroke-width="1.4"/>
<text x="587.65" y="357.70" font-size="16.14" textLength="76.49" lengthAdjust="spacingAndGlyphs">n=14 (61)</text>
<text x="660.01" y="349.12" font-size="23.0" font-weight="bold" style="fill:#1a1a1a">*</text>
<rect x="683.5" y="288.2" width="51.3" height="156.4" fill="#c1c1c1"/>
<line x1="683.5" y1="443.9" x2="734.8" y2="443.9" stroke="#9a9a9a" stroke-width="1.0"/>
<polyline fill="none" stroke="#333" stroke-width="1.4" points="683.5,444.6 683.5,288.2 734.8,288.2 734.8,444.6"/>
<line x1="709.1" y1="288.2" x2="709.1" y2="280.0" stroke="#333" stroke-width="1.4"/>
<line x1="705.4" y1="280.0" x2="712.9" y2="280.0" stroke="#333" stroke-width="1.4"/>
<text x="675.76" y="274.70" font-size="16.86" textLength="85.28" lengthAdjust="spacingAndGlyphs">n=25 (139)</text>
<text x="758.01" y="266.42" font-size="23.0" font-weight="bold" style="fill:#1a1a1a">*</text>
<text x="587.01" y="468.90" font-size="20.14" textLength="72.00" lengthAdjust="spacingAndGlyphs">Normal</text>
<text x="681.91" y="468.90" font-size="20.14" textLength="66.07" lengthAdjust="spacingAndGlyphs">Failing</text>
<text x="550.10" y="284.40" font-size="20.83" textLength="69.56" lengthAdjust="spacingAndGlyphs">Canine</text>
<text x="551.09" y="309.00" font-size="22.03" textLength="66.71" lengthAdjust="spacingAndGlyphs">Hearts</text>
<g transform="translate(475.5,0) rotate(-90)" style="stroke-width:0.45px"><text x="-371.80" y="0" font-size="31" style="stroke-width:0.8px">&#964;</text><text x="-356.30" y="0" font-size="31" style="stroke-width:1.1px">,</text><text x="-337.25" y="0" font-size="34.5" style="stroke-width:1.3px">s</text></g>
<text class="serif" x="422.80" y="505.90" font-size="37.10" textLength="29.00" lengthAdjust="spacingAndGlyphs">D</text>
<line x1="528.3" y1="493.1" x2="528.3" y2="672.9" stroke="#333" stroke-width="1.4"/>
<line x1="523.3" y1="493.8" x2="528.3" y2="493.8" stroke="#333" stroke-width="1.4"/>
<text x="487.03" y="501.00" font-size="20.00" textLength="26.64" lengthAdjust="spacingAndGlyphs">0.4</text>
<line x1="523.3" y1="538.4" x2="528.3" y2="538.4" stroke="#333" stroke-width="1.4"/>
<text x="487.03" y="545.40" font-size="20.00" textLength="26.85" lengthAdjust="spacingAndGlyphs">0.3</text>
<line x1="523.3" y1="582.8" x2="528.3" y2="582.8" stroke="#333" stroke-width="1.4"/>
<text x="487.02" y="589.80" font-size="20.00" textLength="27.05" lengthAdjust="spacingAndGlyphs">0.2</text>
<line x1="523.3" y1="627.0" x2="528.3" y2="627.0" stroke="#333" stroke-width="1.4"/>
<text x="487.02" y="634.00" font-size="20.00" textLength="26.95" lengthAdjust="spacingAndGlyphs">0.1</text>
<line x1="523.3" y1="672.2" x2="528.3" y2="672.2" stroke="#333" stroke-width="1.4"/>
<text x="501.62" y="678.60" font-size="20.00" textLength="10.89" lengthAdjust="spacingAndGlyphs">0</text>
<line x1="538.3" y1="672.2" x2="794" y2="672.2" stroke="#333" stroke-width="1.4"/>
<rect x="597.5" y="566.7" width="51.2" height="106.3" fill="#c1c1c1"/>
<line x1="597.5" y1="672.2" x2="648.7" y2="672.2" stroke="#9a9a9a" stroke-width="1.0"/>
<polyline fill="none" stroke="#333" stroke-width="1.4" points="597.5,672.9 597.5,566.7 648.7,566.7 648.7,672.9"/>
<line x1="623.1" y1="566.7" x2="623.1" y2="558.6" stroke="#333" stroke-width="1.4"/>
<line x1="619.3" y1="558.6" x2="626.9" y2="558.6" stroke="#333" stroke-width="1.4"/>
<text x="589.64" y="555.70" font-size="15.29" textLength="77.10" lengthAdjust="spacingAndGlyphs">n=14 (61)</text>
<text x="662.51" y="546.12" font-size="23.0" font-weight="bold" style="fill:#1a1a1a">*</text>
<rect x="682.7" y="535.3" width="51.5" height="137.7" fill="#c1c1c1"/>
<line x1="682.7" y1="672.2" x2="734.2" y2="672.2" stroke="#9a9a9a" stroke-width="1.0"/>
<polyline fill="none" stroke="#333" stroke-width="1.4" points="682.7,672.9 682.7,535.3 734.2,535.3 734.2,672.9"/>
<line x1="708.5" y1="535.3" x2="708.5" y2="528.6" stroke="#333" stroke-width="1.4"/>
<line x1="704.7" y1="528.6" x2="712.2" y2="528.6" stroke="#333" stroke-width="1.4"/>
<text x="675.75" y="518.20" font-size="16.71" textLength="85.79" lengthAdjust="spacingAndGlyphs">n=25 (139)</text>
<text x="757.91" y="508.62" font-size="23.0" font-weight="bold" style="fill:#1a1a1a">*</text>
<text x="587.01" y="697.20" font-size="20.14" textLength="72.00" lengthAdjust="spacingAndGlyphs">Normal</text>
<text x="681.91" y="697.20" font-size="20.14" textLength="66.07" lengthAdjust="spacingAndGlyphs">Failing</text>
<text x="545.08" y="503.40" font-size="20.41" textLength="70.70" lengthAdjust="spacingAndGlyphs">Canine</text>
<text x="547.01" y="527.50" font-size="21.74" textLength="65.99" lengthAdjust="spacingAndGlyphs">Hearts</text>
<g transform="translate(475.8,0) rotate(-90)"><text x="-661.5" y="0" font-size="28.5">I</text><text x="-644.5" y="6.7" font-size="13.5" textLength="22.2" lengthAdjust="spacingAndGlyphs">NaL</text><text x="-619.8" y="0" font-size="28.5" textLength="26" lengthAdjust="spacingAndGlyphs">/C</text><text x="-592.5" y="0" font-size="21">,</text><text x="-576" y="0" font-size="20.5" textLength="53.5" lengthAdjust="spacingAndGlyphs">pA/pF</text></g>
</svg></body></html>
